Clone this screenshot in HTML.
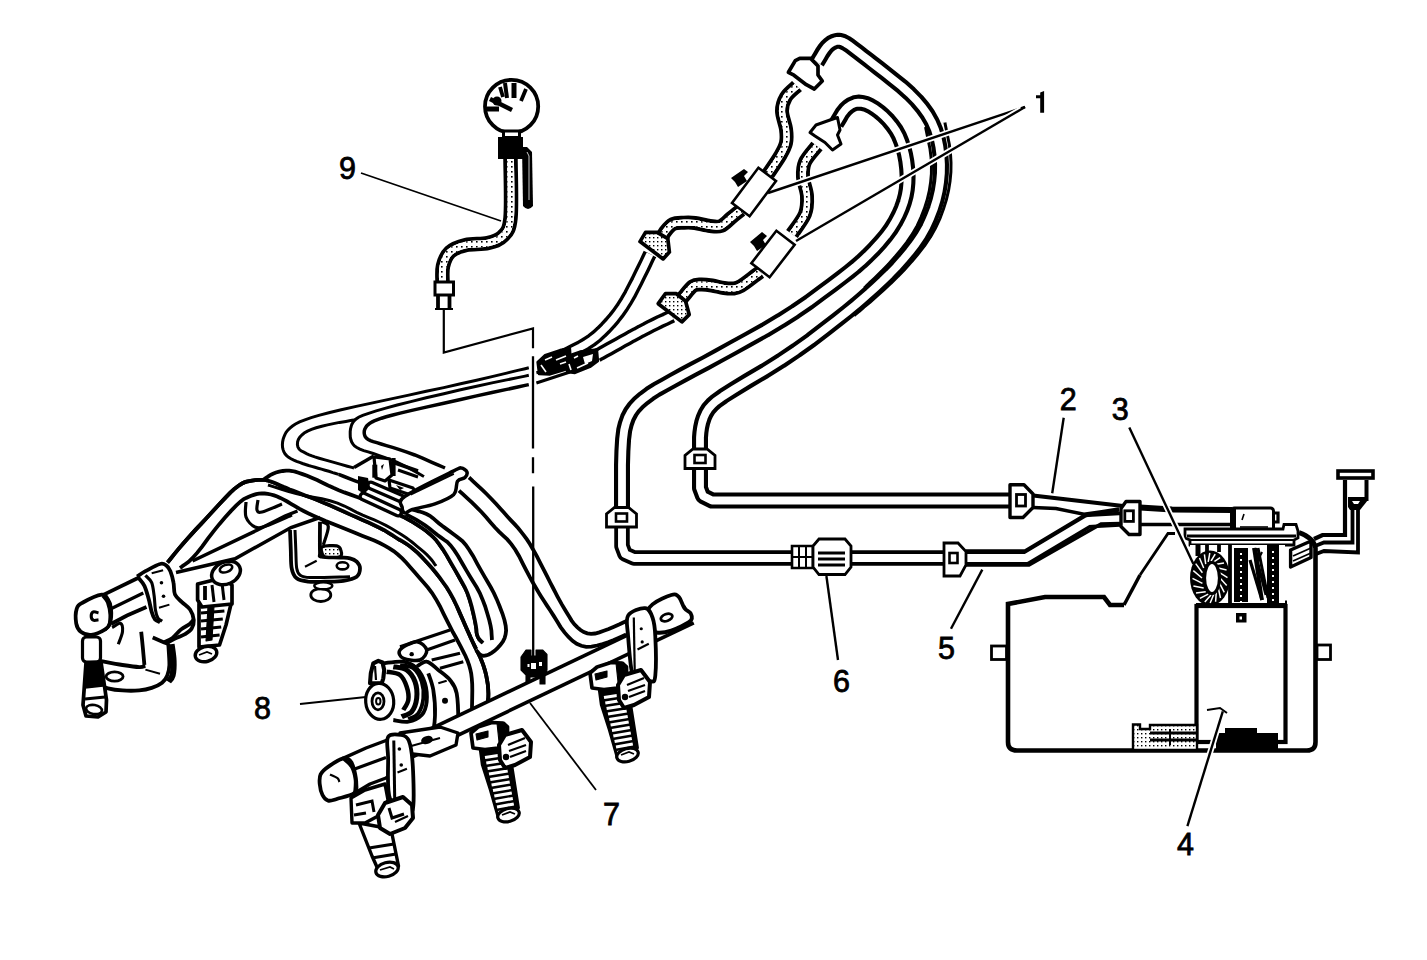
<!DOCTYPE html>
<html><head><meta charset="utf-8"><style>
html,body{margin:0;padding:0;background:#fff;}
svg{display:block;}
text{font-family:"Liberation Sans",sans-serif;fill:#000;}
</style></head><body>
<svg width="1427" height="960" viewBox="0 0 1427 960">
<defs>
<pattern id="dots" width="5" height="5" patternUnits="userSpaceOnUse"><rect width="5" height="5" fill="#fff"/><rect x="1" y="1" width="1.6" height="1.6" fill="#000"/></pattern>
<pattern id="dotsw" width="4" height="4" patternUnits="userSpaceOnUse"><rect width="4" height="4" fill="#fff"/><rect x="1" y="1" width="1.4" height="1.4" fill="#000"/></pattern>
</defs>
<rect width="1427" height="960" fill="#fff"/>
<circle cx="511.6" cy="106.4" r="26.6" fill="#fff" stroke="#000" stroke-width="3.8"/>
<path d="M487,109 L499,109" fill="none" stroke="#000" stroke-width="5"/>
<path d="M490,99 L512,110" fill="none" stroke="#000" stroke-width="4.5"/>
<circle cx="497" cy="101" r="4.5"/>
<path d="M500,87 L503,97" fill="none" stroke="#000" stroke-width="3.8"/>
<path d="M505,83 L507,98" fill="none" stroke="#000" stroke-width="4"/>
<path d="M514,83 L514,98" fill="none" stroke="#000" stroke-width="5"/>
<path d="M526,89 L521,101" fill="none" stroke="#000" stroke-width="3.8"/>
<rect x="503.5" y="131" width="16" height="6.5" fill="#fff" stroke="#000" stroke-width="3"/>
<rect x="498" y="137" width="25" height="22" fill="#000"/>
<path d="M503,141 L518,156" fill="none" stroke="#000" stroke-width="1" stroke="#fff"/>
<path d="M522,147 L527,147 L532,152 L533,206 Q528,212 523,206 Z" fill="#000"/>
<path d="M527,152 L529,156 L529,200" fill="none" stroke="#fff" stroke-width="0.8"/>
<path d="M510.5,159 C510.5,168.8 511.8,205.2 510.5,218 C509.2,230.8 506.8,231.8 503,236 C499.2,240.2 494.2,241.5 488,243 C481.8,244.5 472.3,243.5 466,245 C459.7,246.5 453.8,248.5 450,252 C446.2,255.5 444.2,261 443,266 C441.8,271 442.6,279.3 442.5,282" fill="none" stroke="#000" stroke-width="14.5" stroke-linecap="butt" stroke-linejoin="round"/><path d="M510.5,159 C510.5,168.8 511.8,205.2 510.5,218 C509.2,230.8 506.8,231.8 503,236 C499.2,240.2 494.2,241.5 488,243 C481.8,244.5 472.3,243.5 466,245 C459.7,246.5 453.8,248.5 450,252 C446.2,255.5 444.2,261 443,266 C441.8,271 442.6,279.3 442.5,282" fill="none" stroke="#fff" stroke-width="6.9" stroke-linecap="butt" stroke-linejoin="round"/><path d="M510.5,159 C510.5,168.8 511.8,205.2 510.5,218 C509.2,230.8 506.8,231.8 503,236 C499.2,240.2 494.2,241.5 488,243 C481.8,244.5 472.3,243.5 466,245 C459.7,246.5 453.8,248.5 450,252 C446.2,255.5 444.2,261 443,266 C441.8,271 442.6,279.3 442.5,282" fill="none" stroke="url(#dots)" stroke-width="6.9" stroke-linecap="butt" stroke-linejoin="round"/>
<rect x="435" y="282" width="18.5" height="13" fill="#fff" stroke="#000" stroke-width="3"/>
<path d="M438,295 L438,309" fill="none" stroke="#000" stroke-width="3.8"/><path d="M449.5,295 L449.5,309" fill="none" stroke="#000" stroke-width="3.8"/>
<path d="M435,309 L453,309" fill="none" stroke="#000" stroke-width="2"/>
<path d="M443.8,309 L443.8,352.5 L533,328.5 L533,348.3" fill="none" stroke="#000" stroke-width="2.2"/>
<path d="M361,173 L501,221" fill="none" stroke="#000" stroke-width="1.8"/>
<path d="M939.5,123.5 L939.9,125.7 L940.8,130.1 L942.1,136.6 L943.9,145.4 L945,154.1 L945.5,162.9 L945.4,171.6 L944.6,180.4 L943.2,189.2 L941.1,198.2 L938.2,207.4 L934.8,216.6 L930.6,225.6 L925.7,234.2 L920.1,242.5 L913.9,250.5 L907.4,258.2 L900.8,265.6 L894,272.6 L887,279.4 L880.1,285.8 L873.4,291.9 L866.8,297.8 L860.2,303.2 L855.4,307.4 L852.1,310.1 L850.5,311.5" fill="none" stroke="#000" stroke-width="14" stroke-linecap="butt" stroke-linejoin="round"/><path d="M939.5,123.5 L939.9,125.7 L940.8,130.1 L942.1,136.6 L943.9,145.4 L945,154.1 L945.5,162.9 L945.4,171.6 L944.6,180.4 L943.2,189.2 L941.1,198.2 L938.2,207.4 L934.8,216.6 L930.6,225.6 L925.7,234.2 L920.1,242.5 L913.9,250.5 L907.4,258.2 L900.8,265.6 L894,272.6 L887,279.4 L880.1,285.8 L873.4,291.9 L866.8,297.8 L860.2,303.2 L855.4,307.4 L852.1,310.1 L850.5,311.5" fill="none" stroke="#fff" stroke-width="8" stroke-linecap="butt" stroke-linejoin="round"/>
<path d="M931,126 L931.4,128.2 L932.3,132.6 L933.6,139.1 L935.4,147.9 L936.5,156.6 L937,165.4 L936.9,174.1 L936.1,182.9 L934.7,191.8 L932.6,200.8 L929.8,209.9 L926.2,219.1 L922.1,228.1 L917.2,236.7 L911.6,245 L905.4,253 L898.9,260.7 L892.3,268.1 L885.5,275.1 L878.5,281.9 L873.2,286.9 L869.8,290.3 L868,292" fill="none" stroke="#000" stroke-width="14" stroke-linecap="butt" stroke-linejoin="round"/><path d="M931,126 L931.4,128.2 L932.3,132.6 L933.6,139.1 L935.4,147.9 L936.5,156.6 L937,165.4 L936.9,174.1 L936.1,182.9 L934.7,191.8 L932.6,200.8 L929.8,209.9 L926.2,219.1 L922.1,228.1 L917.2,236.7 L911.6,245 L905.4,253 L898.9,260.7 L892.3,268.1 L885.5,275.1 L878.5,281.9 L873.2,286.9 L869.8,290.3 L868,292" fill="none" stroke="#fff" stroke-width="8" stroke-linecap="butt" stroke-linejoin="round"/>
<path d="M817,62 L817.6,61.1 L818.7,59.2 L820.4,56.4 L822.6,52.6 L824.8,49.4 L826.9,46.8 L829,44.8 L831,43.2 L833.1,42.1 L835.2,41.3 L837.4,40.8 L839.6,40.8 L842.4,41.5 L845.6,43.1 L849.4,45.5 L853.6,48.8 L858.1,52.2 L862.7,55.8 L867.5,59.4 L872.5,63.3 L878.4,67.9 L885.3,73.3 L893.1,79.5 L901.9,86.5 L909.7,93.5 L916.6,100.5 L922.5,107.5 L927.5,114.5 L931.7,121.9 L935.1,129.8 L937.6,138.1 L939.4,146.9 L940.5,155.6 L941,164.4 L940.9,173.1 L940.1,181.9 L938.7,190.8 L936.6,199.8 L933.8,208.9 L930.2,218.1 L926.1,227.1 L921.2,235.7 L915.6,244 L909.4,252 L902.9,259.7 L896.3,267.1 L889.5,274.1 L882.5,280.9 L875.6,287.3 L868.9,293.4 L862.2,299.2 L855.8,304.8 L847.4,311.6 L837.1,319.7 L825,329.1 L811,339.9 L796.2,350.4 L780.8,360.8 L764.5,371 L747.5,381 L733.8,389.4 L723.2,396.1 L716,401.2 L712,404.8 L708.6,408.6 L705.9,412.9 L703.8,417.5 L702.2,422.5 L701.1,427.5 L700.4,432.5 L700,437.5 L700,442.5 L700,446.2 L700,448.8 L700,450" fill="none" stroke="#000" stroke-width="16" stroke-linecap="butt" stroke-linejoin="round"/><path d="M817,62 L817.6,61.1 L818.7,59.2 L820.4,56.4 L822.6,52.6 L824.8,49.4 L826.9,46.8 L829,44.8 L831,43.2 L833.1,42.1 L835.2,41.3 L837.4,40.8 L839.6,40.8 L842.4,41.5 L845.6,43.1 L849.4,45.5 L853.6,48.8 L858.1,52.2 L862.7,55.8 L867.5,59.4 L872.5,63.3 L878.4,67.9 L885.3,73.3 L893.1,79.5 L901.9,86.5 L909.7,93.5 L916.6,100.5 L922.5,107.5 L927.5,114.5 L931.7,121.9 L935.1,129.8 L937.6,138.1 L939.4,146.9 L940.5,155.6 L941,164.4 L940.9,173.1 L940.1,181.9 L938.7,190.8 L936.6,199.8 L933.8,208.9 L930.2,218.1 L926.1,227.1 L921.2,235.7 L915.6,244 L909.4,252 L902.9,259.7 L896.3,267.1 L889.5,274.1 L882.5,280.9 L875.6,287.3 L868.9,293.4 L862.2,299.2 L855.8,304.8 L847.4,311.6 L837.1,319.7 L825,329.1 L811,339.9 L796.2,350.4 L780.8,360.8 L764.5,371 L747.5,381 L733.8,389.4 L723.2,396.1 L716,401.2 L712,404.8 L708.6,408.6 L705.9,412.9 L703.8,417.5 L702.2,422.5 L701.1,427.5 L700.4,432.5 L700,437.5 L700,442.5 L700,446.2 L700,448.8 L700,450" fill="none" stroke="#fff" stroke-width="7.8" stroke-linecap="butt" stroke-linejoin="round"/>
<path d="M836,124 L836.6,122.9 L837.9,120.8 L839.8,117.6 L842.2,113.4 L845,109.8 L848,106.9 L851.2,104.8 L854.8,103.2 L858.4,102.6 L862.3,102.9 L866.4,104 L870.6,106 L874.9,108.6 L879.3,111.9 L883.8,115.8 L888.2,120.2 L892.2,125.1 L895.8,130.2 L898.8,135.6 L901.2,141.4 L903.3,147.6 L905,154.2 L906.3,161.2 L907.2,168.8 L907.6,175.9 L907.4,182.8 L906.8,189.4 L905.7,195.6 L904,202 L901.7,208.5 L898.8,215.1 L895.2,221.9 L891,228.7 L886,235.6 L880.2,242.5 L873.8,249.5 L867.4,255.9 L861.1,261.8 L855,267.1 L849,271.9 L841.4,277.8 L832.1,284.8 L821.2,292.9 L808.8,302.1 L795.2,311.4 L780.6,320.7 L764.9,330.1 L748.1,339.4 L732.6,348 L718.4,355.8 L705.4,362.9 L693.6,369.1 L682.9,374.9 L673.1,380.2 L664.4,385.1 L656.6,389.4 L649.8,393.8 L643.8,398.3 L638.6,402.8 L634.4,407.2 L630.8,412.2 L627.9,417.8 L625.8,423.8 L624.2,430.2 L623.1,439.3 L622.4,450.9 L622,465.1 L622,481.9 L622,494.4 L622,502.8 L622,507" fill="none" stroke="#000" stroke-width="16" stroke-linecap="butt" stroke-linejoin="round"/><path d="M836,124 L836.6,122.9 L837.9,120.8 L839.8,117.6 L842.2,113.4 L845,109.8 L848,106.9 L851.2,104.8 L854.8,103.2 L858.4,102.6 L862.3,102.9 L866.4,104 L870.6,106 L874.9,108.6 L879.3,111.9 L883.8,115.8 L888.2,120.2 L892.2,125.1 L895.8,130.2 L898.8,135.6 L901.2,141.4 L903.3,147.6 L905,154.2 L906.3,161.2 L907.2,168.8 L907.6,175.9 L907.4,182.8 L906.8,189.4 L905.7,195.6 L904,202 L901.7,208.5 L898.8,215.1 L895.2,221.9 L891,228.7 L886,235.6 L880.2,242.5 L873.8,249.5 L867.4,255.9 L861.1,261.8 L855,267.1 L849,271.9 L841.4,277.8 L832.1,284.8 L821.2,292.9 L808.8,302.1 L795.2,311.4 L780.6,320.7 L764.9,330.1 L748.1,339.4 L732.6,348 L718.4,355.8 L705.4,362.9 L693.6,369.1 L682.9,374.9 L673.1,380.2 L664.4,385.1 L656.6,389.4 L649.8,393.8 L643.8,398.3 L638.6,402.8 L634.4,407.2 L630.8,412.2 L627.9,417.8 L625.8,423.8 L624.2,430.2 L623.1,439.3 L622.4,450.9 L622,465.1 L622,481.9 L622,494.4 L622,502.8 L622,507" fill="none" stroke="#fff" stroke-width="7.8" stroke-linecap="butt" stroke-linejoin="round"/>
<path d="M700,468 L700,488 L703,496 L712,500.5 L1011,500.5" fill="none" stroke="#000" stroke-width="16" stroke-linecap="butt" stroke-linejoin="round"/><path d="M700,468 L700,488 L703,496 L712,500.5 L1011,500.5" fill="none" stroke="#fff" stroke-width="7.8" stroke-linecap="butt" stroke-linejoin="round"/>
<path d="M622,528 L622,546 L625,554 L634,558 L793,558" fill="none" stroke="#000" stroke-width="15.5" stroke-linecap="butt" stroke-linejoin="round"/><path d="M622,528 L622,546 L625,554 L634,558 L793,558" fill="none" stroke="#fff" stroke-width="7.9" stroke-linecap="butt" stroke-linejoin="round"/>
<path d="M850,558 L945,558" fill="none" stroke="#000" stroke-width="15.5" stroke-linecap="butt" stroke-linejoin="round"/><path d="M850,558 L945,558" fill="none" stroke="#fff" stroke-width="7.9" stroke-linecap="butt" stroke-linejoin="round"/>
<path d="M965,558 L1026,558 L1088,521 L1124,519" fill="none" stroke="#000" stroke-width="15" stroke-linecap="butt" stroke-linejoin="round"/><path d="M965,558 L1026,558 L1088,521 L1124,519" fill="none" stroke="#fff" stroke-width="8" stroke-linecap="butt" stroke-linejoin="round"/>
<path d="M797,86 C795.2,87.8 788.5,92.8 786,97 C783.5,101.2 782,105.7 782,111 C782,116.3 785.3,123.7 786,129 C786.7,134.3 787,138.5 786,143 C785,147.5 783,150.8 780,156 C777,161.2 770,171 768,174" fill="none" stroke="#000" stroke-width="14" stroke-linecap="butt" stroke-linejoin="round"/><path d="M797,86 C795.2,87.8 788.5,92.8 786,97 C783.5,101.2 782,105.7 782,111 C782,116.3 785.3,123.7 786,129 C786.7,134.3 787,138.5 786,143 C785,147.5 783,150.8 780,156 C777,161.2 770,171 768,174" fill="none" stroke="#fff" stroke-width="6.2" stroke-linecap="butt" stroke-linejoin="round"/><path d="M797,86 C795.2,87.8 788.5,92.8 786,97 C783.5,101.2 782,105.7 782,111 C782,116.3 785.3,123.7 786,129 C786.7,134.3 787,138.5 786,143 C785,147.5 783,150.8 780,156 C777,161.2 770,171 768,174" fill="none" stroke="url(#dots)" stroke-width="6.2" stroke-linecap="butt" stroke-linejoin="round"/>
<path d="M741,210 C739.3,211.3 734.3,215.3 731,218 C727.7,220.7 724.5,224.7 721,226 C717.5,227.3 714.3,226.5 710,226 C705.7,225.5 699.3,223.6 695,223 C690.7,222.4 687.7,222.5 684,222.7 C680.3,222.9 676.2,222.4 673,224 C669.8,225.6 667,229.3 665,232 C663,234.7 661.7,238.7 661,240" fill="none" stroke="#000" stroke-width="14" stroke-linecap="butt" stroke-linejoin="round"/><path d="M741,210 C739.3,211.3 734.3,215.3 731,218 C727.7,220.7 724.5,224.7 721,226 C717.5,227.3 714.3,226.5 710,226 C705.7,225.5 699.3,223.6 695,223 C690.7,222.4 687.7,222.5 684,222.7 C680.3,222.9 676.2,222.4 673,224 C669.8,225.6 667,229.3 665,232 C663,234.7 661.7,238.7 661,240" fill="none" stroke="#fff" stroke-width="6.2" stroke-linecap="butt" stroke-linejoin="round"/><path d="M741,210 C739.3,211.3 734.3,215.3 731,218 C727.7,220.7 724.5,224.7 721,226 C717.5,227.3 714.3,226.5 710,226 C705.7,225.5 699.3,223.6 695,223 C690.7,222.4 687.7,222.5 684,222.7 C680.3,222.9 676.2,222.4 673,224 C669.8,225.6 667,229.3 665,232 C663,234.7 661.7,238.7 661,240" fill="none" stroke="url(#dots)" stroke-width="6.2" stroke-linecap="butt" stroke-linejoin="round"/>
<path d="M817,146 C815,148.7 807.3,156.8 805,162 C802.7,167.2 802.7,171.3 803,177 C803.3,182.7 806.7,189.8 807,196 C807.3,202.2 807.5,207.7 805,214 C802.5,220.3 794.2,230.7 792,234" fill="none" stroke="#000" stroke-width="14" stroke-linecap="butt" stroke-linejoin="round"/><path d="M817,146 C815,148.7 807.3,156.8 805,162 C802.7,167.2 802.7,171.3 803,177 C803.3,182.7 806.7,189.8 807,196 C807.3,202.2 807.5,207.7 805,214 C802.5,220.3 794.2,230.7 792,234" fill="none" stroke="#fff" stroke-width="6.2" stroke-linecap="butt" stroke-linejoin="round"/><path d="M817,146 C815,148.7 807.3,156.8 805,162 C802.7,167.2 802.7,171.3 803,177 C803.3,182.7 806.7,189.8 807,196 C807.3,202.2 807.5,207.7 805,214 C802.5,220.3 794.2,230.7 792,234" fill="none" stroke="url(#dots)" stroke-width="6.2" stroke-linecap="butt" stroke-linejoin="round"/>
<path d="M760,272 C759.3,272.5 759.2,272.7 756,275 C752.8,277.3 744.8,283.8 741,286 C737.2,288.2 736.3,288.2 733.5,288.5 C730.7,288.8 727.6,288.5 724,288 C720.4,287.5 715.8,286.1 712,285.5 C708.2,284.9 704.2,284.4 701,284.5 C697.8,284.6 695.8,284.1 693,286 C690.2,287.9 686.3,293.3 684,296 C681.7,298.7 679.8,301 679,302" fill="none" stroke="#000" stroke-width="14" stroke-linecap="butt" stroke-linejoin="round"/><path d="M760,272 C759.3,272.5 759.2,272.7 756,275 C752.8,277.3 744.8,283.8 741,286 C737.2,288.2 736.3,288.2 733.5,288.5 C730.7,288.8 727.6,288.5 724,288 C720.4,287.5 715.8,286.1 712,285.5 C708.2,284.9 704.2,284.4 701,284.5 C697.8,284.6 695.8,284.1 693,286 C690.2,287.9 686.3,293.3 684,296 C681.7,298.7 679.8,301 679,302" fill="none" stroke="#fff" stroke-width="6.2" stroke-linecap="butt" stroke-linejoin="round"/><path d="M760,272 C759.3,272.5 759.2,272.7 756,275 C752.8,277.3 744.8,283.8 741,286 C737.2,288.2 736.3,288.2 733.5,288.5 C730.7,288.8 727.6,288.5 724,288 C720.4,287.5 715.8,286.1 712,285.5 C708.2,284.9 704.2,284.4 701,284.5 C697.8,284.6 695.8,284.1 693,286 C690.2,287.9 686.3,293.3 684,296 C681.7,298.7 679.8,301 679,302" fill="none" stroke="url(#dots)" stroke-width="6.2" stroke-linecap="butt" stroke-linejoin="round"/>
<path d="M650,254 L649.3,255.4 L647.9,258.3 L645.9,262.6 L643.1,268.4 L640.1,274.4 L637,280.8 L633.5,287.5 L629.9,294.5 L626.1,301.1 L622.2,307.2 L618.2,312.9 L614.2,318.1 L609.9,323.1 L605.6,327.8 L601.1,332.2 L596.6,336.3 L591.6,340.2 L586.2,343.8 L580.4,347.2 L574.3,350.3 L569.6,352.7 L566.5,354.2 L565,355" fill="none" stroke="#000" stroke-width="14" stroke-linecap="butt" stroke-linejoin="round"/><path d="M650,254 L649.3,255.4 L647.9,258.3 L645.9,262.6 L643.1,268.4 L640.1,274.4 L637,280.8 L633.5,287.5 L629.9,294.5 L626.1,301.1 L622.2,307.2 L618.2,312.9 L614.2,318.1 L609.9,323.1 L605.6,327.8 L601.1,332.2 L596.6,336.3 L591.6,340.2 L586.2,343.8 L580.4,347.2 L574.3,350.3 L569.6,352.7 L566.5,354.2 L565,355" fill="none" stroke="#fff" stroke-width="7.2" stroke-linecap="butt" stroke-linejoin="round"/>
<path d="M672,316 L670.8,316.6 L668.4,317.7 L664.9,319.4 L660.1,321.6 L655.4,323.9 L650.6,326.3 L645.9,328.8 L641.1,331.2 L636.4,333.8 L631.8,336.2 L627.2,338.8 L622.8,341.2 L618.2,343.8 L613.6,346.4 L608.9,349 L604.1,351.6 L600.6,353.6 L598.2,354.9 L597,355.6" fill="none" stroke="#000" stroke-width="14" stroke-linecap="butt" stroke-linejoin="round"/><path d="M672,316 L670.8,316.6 L668.4,317.7 L664.9,319.4 L660.1,321.6 L655.4,323.9 L650.6,326.3 L645.9,328.8 L641.1,331.2 L636.4,333.8 L631.8,336.2 L627.2,338.8 L622.8,341.2 L618.2,343.8 L613.6,346.4 L608.9,349 L604.1,351.6 L600.6,353.6 L598.2,354.9 L597,355.6" fill="none" stroke="#fff" stroke-width="7.2" stroke-linecap="butt" stroke-linejoin="round"/>
<rect x="732" y="181" width="44" height="22" transform="rotate(-53.1 754 192)" fill="#fff" stroke="#000" stroke-width="2.6"/>
<rect x="752.5" y="242.5" width="41" height="23" transform="rotate(-52.4 773 254)" fill="#fff" stroke="#000" stroke-width="2.6"/>
<path d="M731,178 L744,169 L748,172 L744,176 L747,181 L738,187 L735,182 Z" fill="#000"/>
<path d="M750,242 L762,232 L767,236 L763,240 L766,245 L757,251 L754,246 Z" fill="#000"/>
<path d="M788.4,72.3 L795.3,60.6 L799.7,58.4 L810.6,58.4 L818,66 L818,75 L822.3,81 L814.3,89 L806.3,84.7 L793.9,75.2Z" fill="#fff" stroke="#000" stroke-width="3.7" stroke-linejoin="round"/>
<path d="M810,132.5 L816,125 L830,120 L837.5,117.5 L840,130 L837.5,135 L841,144 L832.5,150 L825,142.5 L815,136Z" fill="#fff" stroke="#000" stroke-width="3" stroke-linejoin="round"/>
<path d="M640,241.6 L645.5,232.4 L657.2,232.4 L667.8,238.7 L669.4,252.1 L663.1,258.9Z" fill="url(#dotsw)" stroke="#000" stroke-width="3.7" stroke-linejoin="round"/>
<path d="M658.2,303.7 L665.5,293.7 L676.4,293.7 L685.5,301 L689.2,314.6 L681.9,321.9Z" fill="url(#dotsw)" stroke="#000" stroke-width="3.7" stroke-linejoin="round"/>
<path d="M1010,484.8 L1024,484.8 L1033,494 L1033,507.5 L1023,517.5 L1010,517.5Z" fill="#fff" stroke="#000" stroke-width="3.4" stroke-linejoin="round"/>
<rect x="1016.5" y="494.5" width="9" height="11.5" fill="#fff" stroke="#000" stroke-width="2.8"/>
<path d="M1033,495.5 L1123,506" fill="none" stroke="#000" stroke-width="4.2"/>
<path d="M1033,507.5 L1056,508.6 L1084,514.2 L1100,512 L1119,509" fill="none" stroke="#000" stroke-width="3.5"/>
<path d="M966,551 L1025,551 L1084,515.6 L1119,510" fill="none" stroke="#000" stroke-width="3.5"/>
<path d="M961,565 L1029,565 L1101,524 L1120,523.4" fill="none" stroke="#000" stroke-width="3.5"/>
<path d="M1126,501.5 L1140,501.5 L1140,534.5 L1129,534.5 L1121,526.5 L1121,508.5Z" fill="#fff" stroke="#000" stroke-width="3.4" stroke-linejoin="round"/>
<rect x="1124.8" y="510.8" width="8.6" height="10.6" fill="#fff" stroke="#000" stroke-width="2.8"/>
<path d="M1140,507.5 L1172,509.5 L1232,510" fill="none" stroke="#000" stroke-width="5.8"/>
<path d="M1140,524.5 L1232,524.5" fill="none" stroke="#000" stroke-width="3.5"/>
<path d="M944,543 L958,543 L966,551.5 L966,565 L960,576 L944,576 Z" fill="#fff" stroke="#000" stroke-width="2.8"/>
<rect x="949.5" y="553" width="8" height="10" fill="#fff" stroke="#000" stroke-width="2.6"/>
<path d="M792,546 L813,546 L813,568 L792,568 Z" fill="#fff" stroke="#000" stroke-width="2.6"/>
<path d="M799,546 L799,568" fill="none" stroke="#000" stroke-width="2"/><path d="M806,546 L806,568" fill="none" stroke="#000" stroke-width="2"/><path d="M792,557 L813,557" fill="none" stroke="#000" stroke-width="2"/>
<path d="M819,539 L845,539 L851,546 L851,567 L845,574.5 L819,574.5 L813,567 L813,546 Z" fill="#fff" stroke="#000" stroke-width="2.8"/>
<path d="M818,553 L845,553" fill="none" stroke="#000" stroke-width="3"/><path d="M818,559 L845,559" fill="none" stroke="#000" stroke-width="3"/><path d="M818,565 L845,565" fill="none" stroke="#000" stroke-width="3"/>
<path d="M693,449.0 L707,449.0 L715,455.5 L715,468.5 L685,468.5 L685,455.5 Z" fill="#fff" stroke="#000" stroke-width="2.8"/>
<rect x="694.5" y="455.0" width="11" height="8" fill="#fff" stroke="#000" stroke-width="2.6"/>
<path d="M614.5,507.5 L628.5,507.5 L636.5,514 L636.5,527 L606.5,527 L606.5,514 Z" fill="#fff" stroke="#000" stroke-width="2.8"/>
<rect x="616.0" y="513.5" width="11" height="8" fill="#fff" stroke="#000" stroke-width="2.6"/>
<path d="M1140,575 L1168,533.5 L1175,533.5" fill="none" stroke="#000" stroke-width="2.8"/>
<path d="M1124,605 L1110,605 L1104,597 L1045,597 L1008,604 L1008,742 Q1008,750.5 1017,750.5 L1307,750.5 Q1315.5,750.5 1315.5,742 L1315.5,548 Q1314,538 1299,532.5" fill="none" stroke="#000" stroke-width="4.6"/>
<path d="M1124,605 L1140,575" fill="none" stroke="#000" stroke-width="3.5"/>
<rect x="991.5" y="646" width="15" height="13.5" fill="#fff" stroke="#000" stroke-width="2.8"/>
<rect x="1317" y="645" width="13.5" height="14.5" fill="#fff" stroke="#000" stroke-width="2.8"/>
<rect x="1196.5" y="606" width="89" height="136" fill="#fff" stroke="#000" stroke-width="4.2"/>
<rect x="1236" y="613" width="10.5" height="9.5" fill="#000"/>
<rect x="1239.5" y="616.5" width="2.5" height="3" fill="#fff"/>
<path d="M1196,603.5 L1287,603.5" fill="none" stroke="#000" stroke-width="6.2"/>
<rect x="1231.5" y="508" width="42" height="24" rx="3" fill="#fff" stroke="#000" stroke-width="3"/>
<rect x="1230" y="508" width="6" height="24" fill="#000"/>
<path d="M1274,513 L1278,513 L1278,522 L1274,522" fill="none" stroke="#000" stroke-width="3.2"/>
<path d="M1244,514 L1242,520" fill="none" stroke="#000" stroke-width="1.6"/><path d="M1240,527 L1268,527" fill="none" stroke="#000" stroke-width="1.6"/>
<path d="M1185,529 L1283,529 L1284,524.5 L1296,524.5 L1298,531 L1298,538 L1294,540 L1294,545 L1190,545 L1190,540 L1185,538 Z" fill="#fff" stroke="#000" stroke-width="2.8"/>
<path d="M1187,536 L1296,536" fill="none" stroke="#000" stroke-width="3.2"/><path d="M1190,540 L1294,540" fill="none" stroke="#000" stroke-width="2.2"/>
<rect x="1190" y="545" width="95" height="58" fill="#fff"/>
<path d="M1234,548 L1248,548 L1248,602 L1234,602 Z" fill="#000"/>
<path d="M1267,545 L1279,545 L1279,603 L1267,603 Z" fill="#000"/>
<rect x="1272" y="551" width="2" height="2" fill="#fff"/>
<rect x="1240" y="553" width="2" height="2" fill="#fff"/>
<rect x="1272" y="557" width="2" height="2" fill="#fff"/>
<rect x="1240" y="559" width="2" height="2" fill="#fff"/>
<rect x="1272" y="563" width="2" height="2" fill="#fff"/>
<rect x="1240" y="565" width="2" height="2" fill="#fff"/>
<rect x="1272" y="569" width="2" height="2" fill="#fff"/>
<rect x="1240" y="571" width="2" height="2" fill="#fff"/>
<rect x="1272" y="575" width="2" height="2" fill="#fff"/>
<rect x="1240" y="577" width="2" height="2" fill="#fff"/>
<rect x="1272" y="581" width="2" height="2" fill="#fff"/>
<rect x="1240" y="583" width="2" height="2" fill="#fff"/>
<rect x="1272" y="587" width="2" height="2" fill="#fff"/>
<rect x="1240" y="589" width="2" height="2" fill="#fff"/>
<rect x="1272" y="593" width="2" height="2" fill="#fff"/>
<rect x="1240" y="595" width="2" height="2" fill="#fff"/>
<rect x="1272" y="599" width="2" height="2" fill="#fff"/>
<rect x="1240" y="601" width="2" height="2" fill="#fff"/>
<path d="M1230,545 L1230,603" fill="none" stroke="#000" stroke-width="3.8"/><path d="M1250,560 L1262,600" fill="none" stroke="#000" stroke-width="3.2"/><path d="M1254,548 L1266,595" fill="none" stroke="#000" stroke-width="3"/><path d="M1256,548 L1258,560 L1262,552" fill="none" stroke="#000" stroke-width="2.2"/>
<path d="M1198,545 L1198,556" fill="none" stroke="#000" stroke-width="5"/><path d="M1207,545 L1207,552" fill="none" stroke="#000" stroke-width="3.8"/><path d="M1219,545 L1219,552" fill="none" stroke="#000" stroke-width="3.8"/>
<ellipse cx="1210" cy="578" rx="20" ry="27.5" fill="#000"/>
<path d="M1220,578 L1226.7,585.4" stroke="#fff" stroke-width="1.5" fill="none"/>
<path d="M1219.6,583.3 L1224.3,592.4" stroke="#fff" stroke-width="1.5" fill="none"/>
<path d="M1218.3,588 L1220.5,598" stroke="#fff" stroke-width="1.5" fill="none"/>
<path d="M1216.3,591.8 L1215.6,601.7" stroke="#fff" stroke-width="1.5" fill="none"/>
<path d="M1213.8,594.2 L1210.2,603" stroke="#fff" stroke-width="1.5" fill="none"/>
<path d="M1211,595 L1204.8,601.9" stroke="#fff" stroke-width="1.5" fill="none"/>
<path d="M1208.2,594.2 L1199.9,598.4" stroke="#fff" stroke-width="1.5" fill="none"/>
<path d="M1205.7,591.8 L1196,593" stroke="#fff" stroke-width="1.5" fill="none"/>
<path d="M1203.7,588 L1193.4,586.1" stroke="#fff" stroke-width="1.5" fill="none"/>
<path d="M1202.4,583.3 L1192.5,578.4" stroke="#fff" stroke-width="1.5" fill="none"/>
<path d="M1202,578 L1193.3,570.6" stroke="#fff" stroke-width="1.5" fill="none"/>
<path d="M1202.4,572.7 L1195.7,563.6" stroke="#fff" stroke-width="1.5" fill="none"/>
<path d="M1203.7,568 L1199.5,558" stroke="#fff" stroke-width="1.5" fill="none"/>
<path d="M1205.7,564.2 L1204.4,554.3" stroke="#fff" stroke-width="1.5" fill="none"/>
<path d="M1208.2,561.8 L1209.8,553" stroke="#fff" stroke-width="1.5" fill="none"/>
<path d="M1211,561 L1215.2,554.1" stroke="#fff" stroke-width="1.5" fill="none"/>
<path d="M1213.8,561.8 L1220.1,557.6" stroke="#fff" stroke-width="1.5" fill="none"/>
<path d="M1216.3,564.2 L1224,563" stroke="#fff" stroke-width="1.5" fill="none"/>
<path d="M1218.3,568 L1226.6,569.9" stroke="#fff" stroke-width="1.5" fill="none"/>
<path d="M1219.6,572.7 L1227.5,577.6" stroke="#fff" stroke-width="1.5" fill="none"/>
<ellipse cx="1212" cy="578" rx="7.5" ry="15.5" fill="#fff" stroke="#000" stroke-width="3.2"/>
<path d="M1254,548 L1262,600" fill="none" stroke="#000" stroke-width="3.8"/><path d="M1258,548 L1268,598" fill="none" stroke="#000" stroke-width="3"/>
<rect x="1338" y="471" width="35" height="7" fill="#fff" stroke="#000" stroke-width="3.6"/>
<path d="M1345,480 L1345,535 L1322.5,535 L1314,539" fill="none" stroke="#000" stroke-width="4.2"/>
<path d="M1366.5,480 L1366.5,501" fill="none" stroke="#000" stroke-width="4"/>
<path d="M1348,497 L1368,497 L1368,500 L1360,510 L1350,510 L1348,507 Z" fill="#000"/>
<path d="M1352,501 L1360,501 L1358,504 L1354,504 Z" fill="#fff"/>
<path d="M1352.5,509 L1352.5,542.5 L1324,542.5 L1315,546" fill="none" stroke="#000" stroke-width="3.8"/>
<path d="M1358,509 L1358,552.5 L1324,551 L1316,554" fill="none" stroke="#000" stroke-width="3.8"/>
<path d="M1290.6,550 L1311,541 L1311,557.5 L1290.6,567Z" fill="#fff" stroke="#000" stroke-width="3.4" stroke-linejoin="round"/>
<path d="M1293,556 L1311,548" fill="none" stroke="#000" stroke-width="1.8"/><path d="M1293,561 L1311,553" fill="none" stroke="#000" stroke-width="1.8"/>
<path d="M1133,724.5 L1140,724.5 L1140,729 L1150,729 L1150,725 L1197,725 L1197,750 L1133,750 Z" fill="url(#dotsw)" stroke="#000" stroke-width="2.4"/>
<path d="M1150,733 L1197,733" fill="none" stroke="#000" stroke-width="3"/><path d="M1150,740 L1197,740" fill="none" stroke="#000" stroke-width="3"/><path d="M1170,729 L1170,745" fill="none" stroke="#000" stroke-width="2"/>
<rect x="1216" y="733" width="62" height="17" fill="#000"/>
<rect x="1225" y="728" width="32" height="5" fill="#000"/>
<path d="M1207,710 L1220,708 L1227,713" fill="none" stroke="#000" stroke-width="2"/>
<path d="M1021.2,108.3 L772.7,191.4" stroke="#fff" stroke-width="6" fill="none"/><path d="M1025,107 L768,193" fill="none" stroke="#000" stroke-width="2.4"/>
<path d="M1021.5,109 L800.3,238.5" stroke="#fff" stroke-width="6" fill="none"/><path d="M1025,107 L796,241" fill="none" stroke="#000" stroke-width="2.4"/>
<path d="M1063.1,421.7 L1053,488.3" stroke="#fff" stroke-width="6" fill="none"/><path d="M1063.7,417.7 L1052.2,493.2" fill="none" stroke="#000" stroke-width="2.4"/>
<path d="M1131,431.2 L1191.2,559.2" stroke="#fff" stroke-width="6" fill="none"/><path d="M1129.3,427.6 L1193.3,563.8" fill="none" stroke="#000" stroke-width="2.4"/>
<path d="M1188.6,822.4 L1221.3,716.2" stroke="#fff" stroke-width="6" fill="none"/><path d="M1187.4,826.2 L1222.8,711.4" fill="none" stroke="#000" stroke-width="2.4"/>
<path d="M982.3,569.6 L951,628.7" fill="none" stroke="#000" stroke-width="2.4"/>
<path d="M826.4,576 L838,660" fill="none" stroke="#000" stroke-width="2.4"/>
<path d="M167.5,562.5 L168.6,561.2 L170.8,558.5 L174.1,554.4 L178.4,549.1 L182.8,543.9 L187.2,538.9 L191.6,534.1 L195.9,529.4 L200.9,524.1 L206.6,518 L212.8,511.2 L219.7,503.8 L225.5,497.6 L230.3,492.7 L234.1,489.1 L236.9,486.9 L239.5,485 L242,483.5 L244.4,482.4 L246.6,481.7 L249.2,481.1 L252,480.6 L255.2,480.1 L258.6,479.9 L261.7,479.8 L264.5,479.9 L267,480.3 L269.2,481 L271.6,481.8 L274.3,482.8 L277.2,484 L280.3,485.4 L283.4,486.8 L286.6,488.1 L289.7,489.4 L292.8,490.6 L296.6,492.1 L300.9,493.8 L305.9,495.7 L311.6,497.8 L316.7,499.8 L321.4,501.7 L325.6,503.4 L329.4,505.1 L333.8,507 L338.8,509.2 L344.4,511.7 L350.6,514.6 L356.7,517.3 L362.7,520 L368.6,522.6 L374.3,525.2 L379.5,527.7 L384.3,530.2 L388.6,532.8 L392.3,535.2 L395.9,537.5 L399.1,539.5 L402.1,541.2 L404.9,542.8 L407.8,544.7 L410.9,547 L414.2,549.8 L417.8,552.9 L421.3,556.4 L424.9,560.2 L428.6,564.2 L432.4,568.5 L436.1,573 L439.7,577.7 L443.2,582.5 L446.8,587.5 L450.2,593.1 L453.6,599.4 L456.9,606.2 L460.1,613.8 L463.1,620.6 L465.9,626.9 L468.4,632.5 L470.6,637.5 L472.8,642.2 L474.9,646.6 L476.9,650.6 L478.8,654.4 L480.6,658.2 L482.2,662.2 L483.7,666.4 L485,670.6 L486.1,675 L487,679.6 L487.8,684.4 L488.2,689.3 L488.4,693.7 L488.3,697.6 L487.9,700.9 L487.1,703.8 L486.6,705.9 L486.2,707.3 L486,708 L472,708 L472,706.2 L472.1,702.8 L472.2,697.5 L472.3,690.5 L472.2,684.2 L471.8,678.6 L471.2,673.6 L470.3,669.4 L469.1,665.1 L467.5,660.7 L465.6,656.2 L463.4,651.8 L461,647.1 L458.5,642.4 L455.9,637.5 L453.1,632.5 L450.2,626.9 L447,620.6 L443.6,613.8 L439.9,606.2 L436.1,599.4 L432.1,593.1 L427.9,587.5 L423.6,582.5 L419.2,577.5 L414.9,572.6 L410.7,567.7 L406.4,562.8 L402.2,558.4 L397.9,554.5 L393.6,551.1 L389.4,548.3 L384.7,545.6 L379.7,543 L374.3,540.5 L368.6,538.2 L362.7,535.9 L356.7,533.5 L350.6,531 L344.4,528.5 L338.8,526.3 L333.8,524.3 L329.4,522.5 L325.6,521 L321.6,519.3 L317.4,517.5 L312.9,515.5 L308.1,513.3 L303.6,511 L299.2,508.7 L295,506.2 L291,503.8 L287.2,501.5 L283.7,499.6 L280.3,497.9 L277.2,496.5 L274.1,495.4 L270.9,494.5 L267.8,493.9 L264.7,493.5 L261.7,493.5 L258.9,493.6 L256.2,494.1 L253.8,494.9 L251.2,495.8 L248.8,496.8 L246.2,497.9 L243.8,499.1 L240.4,501.7 L236.1,505.7 L231,510.9 L225,517.6 L219.1,524.4 L213.3,531.6 L207.7,538.9 L202.1,546.6 L197.1,552.9 L192.6,558 L188.6,561.8 L185.2,564.2 L182.6,566.1 L180.9,567.4 L180,568Z" fill="#fff" stroke="none"/>
<path d="M167.5,562.5 L168.6,561.2 L170.8,558.5 L174.1,554.4 L178.4,549.1 L182.8,543.9 L187.2,538.9 L191.6,534.1 L195.9,529.4 L200.9,524.1 L206.6,518 L212.8,511.2 L219.7,503.8 L225.5,497.6 L230.3,492.7 L234.1,489.1 L236.9,486.9 L239.5,485 L242,483.5 L244.4,482.4 L246.6,481.7 L249.2,481.1 L252,480.6 L255.2,480.1 L258.6,479.9 L261.7,479.8 L264.5,479.9 L267,480.3 L269.2,481 L271.6,481.8 L274.3,482.8 L277.2,484 L280.3,485.4 L283.4,486.8 L286.6,488.1 L289.7,489.4 L292.8,490.6 L296.6,492.1 L300.9,493.8 L305.9,495.7 L311.6,497.8 L316.7,499.8 L321.4,501.7 L325.6,503.4 L329.4,505.1 L333.8,507 L338.8,509.2 L344.4,511.7 L350.6,514.6 L356.7,517.3 L362.7,520 L368.6,522.6 L374.3,525.2 L379.5,527.7 L384.3,530.2 L388.6,532.8 L392.3,535.2 L395.9,537.5 L399.1,539.5 L402.1,541.2 L404.9,542.8 L407.8,544.7 L410.9,547 L414.2,549.8 L417.8,552.9 L421.3,556.4 L424.9,560.2 L428.6,564.2 L432.4,568.5 L436.1,573 L439.7,577.7 L443.2,582.5 L446.8,587.5 L450.2,593.1 L453.6,599.4 L456.9,606.2 L460.1,613.8 L463.1,620.6 L465.9,626.9 L468.4,632.5 L470.6,637.5 L472.8,642.2 L474.9,646.6 L476.9,650.6 L478.8,654.4 L480.6,658.2 L482.2,662.2 L483.7,666.4 L485,670.6 L486.1,675 L487,679.6 L487.8,684.4 L488.2,689.3 L488.4,693.7 L488.3,697.6 L487.9,700.9 L487.1,703.8 L486.6,705.9 L486.2,707.3 L486,708" fill="none" stroke="#000" stroke-width="3.8"/>
<path d="M180,568 L180.9,567.4 L182.6,566.1 L185.2,564.2 L188.6,561.8 L192.6,558 L197.1,552.9 L202.1,546.6 L207.7,538.9 L213.3,531.6 L219.1,524.4 L225,517.6 L231,510.9 L236.1,505.7 L240.4,501.7 L243.8,499.1 L246.2,497.9 L248.8,496.8 L251.2,495.8 L253.8,494.9 L256.2,494.1 L258.9,493.6 L261.7,493.5 L264.7,493.5 L267.8,493.9 L270.9,494.5 L274.1,495.4 L277.2,496.5 L280.3,497.9 L283.7,499.6 L287.2,501.5 L291,503.8 L295,506.2 L299.2,508.7 L303.6,511 L308.1,513.3 L312.9,515.5 L317.4,517.5 L321.6,519.3 L325.6,521 L329.4,522.5 L333.8,524.3 L338.8,526.3 L344.4,528.5 L350.6,531 L356.7,533.5 L362.7,535.9 L368.6,538.2 L374.3,540.5 L379.7,543 L384.7,545.6 L389.4,548.3 L393.6,551.1 L397.9,554.5 L402.2,558.4 L406.4,562.8 L410.7,567.7 L414.9,572.6 L419.2,577.5 L423.6,582.5 L427.9,587.5 L432.1,593.1 L436.1,599.4 L439.9,606.2 L443.6,613.8 L447,620.6 L450.2,626.9 L453.1,632.5 L455.9,637.5 L458.5,642.4 L461,647.1 L463.4,651.8 L465.6,656.2 L467.5,660.7 L469.1,665.1 L470.3,669.4 L471.2,673.6 L471.8,678.6 L472.2,684.2 L472.3,690.5 L472.2,697.5 L472.1,702.8 L472,706.2 L472,708" fill="none" stroke="#000" stroke-width="3.8"/>
<path d="M263.8,479.4 L264.4,479 L265.7,478.1 L267.6,476.9 L270.2,475.1 L273,473.7 L276,472.5 L279.2,471.6 L282.8,471 L286.1,470.6 L289.3,470.6 L292.3,471 L295.1,471.6 L298.5,472.7 L302.5,474.1 L307.1,475.8 L312.3,478 L317.1,480.1 L321.5,482.2 L325.6,484.2 L329.4,486.1 L333.8,488.1 L338.8,490.2 L344.4,492.4 L350.6,494.6 L357.1,497 L363.8,499.6 L370.8,502.3 L377.9,505.2 L384.7,508.1 L391.2,511 L397.3,513.9 L403,516.7 L408.4,519.6 L413.4,522.4 L418.1,525.3 L422.4,528.2 L426.3,531.1 L429.8,533.9 L433,536.8 L435.8,539.7 L439,543.8 L442.7,549.1 L446.8,555.6 L451.2,563.4 L455.3,570.4 L458.9,576.8 L462.1,582.5 L464.9,587.5 L467.4,593.1 L469.6,599.4 L471.6,606.2 L473.4,613.8 L474.8,620.1 L475.8,625.4 L476.4,629.5 L476.6,632.5 L477.2,635.1 L478.1,637.4 L479.2,639.2 L480.8,640.8 L481.9,641.9 L482.6,642.6 L483,643 L438,575 L437.1,573.9 L435.2,571.8 L432.4,568.5 L428.6,564.2 L424.9,560.2 L421.3,556.4 L417.8,552.9 L414.2,549.8 L410.9,547 L407.8,544.7 L404.9,542.8 L402.1,541.2 L399.1,539.5 L395.9,537.5 L392.3,535.2 L388.6,532.8 L384.3,530.2 L379.5,527.7 L374.3,525.2 L368.6,522.6 L362.7,520 L356.7,517.3 L350.6,514.6 L344.4,511.7 L338.8,509.2 L333.8,507 L329.4,505.1 L325.6,503.4 L321.4,501.7 L316.7,499.8 L311.6,497.8 L305.9,495.7 L300.9,493.8 L296.6,492.1 L292.8,490.6 L289.7,489.4 L286.6,488.1 L283.4,486.8 L280.3,485.4 L277.2,484 L274.3,482.8 L271.6,481.8 L269.2,481 L267,480.3 L265.4,479.9 L264.3,479.6 L263.8,479.4Z" fill="#fff" stroke="none"/>
<path d="M263.8,479.4 L264.4,479 L265.7,478.1 L267.6,476.9 L270.2,475.1 L273,473.7 L276,472.5 L279.2,471.6 L282.8,471 L286.1,470.6 L289.3,470.6 L292.3,471 L295.1,471.6 L298.5,472.7 L302.5,474.1 L307.1,475.8 L312.3,478 L317.1,480.1 L321.5,482.2 L325.6,484.2 L329.4,486.1 L333.8,488.1 L338.8,490.2 L344.4,492.4 L350.6,494.6 L357.1,497 L363.8,499.6 L370.8,502.3 L377.9,505.2 L384.7,508.1 L391.2,511 L397.3,513.9 L403,516.7 L408.4,519.6 L413.4,522.4 L418.1,525.3 L422.4,528.2 L426.3,531.1 L429.8,533.9 L433,536.8 L435.8,539.7 L439,543.8 L442.7,549.1 L446.8,555.6 L451.2,563.4 L455.3,570.4 L458.9,576.8 L462.1,582.5 L464.9,587.5 L467.4,593.1 L469.6,599.4 L471.6,606.2 L473.4,613.8 L474.8,620.1 L475.8,625.4 L476.4,629.5 L476.6,632.5 L477.2,635.1 L478.1,637.4 L479.2,639.2 L480.8,640.8 L481.9,641.9 L482.6,642.6 L483,643" fill="none" stroke="#000" stroke-width="3.8"/>
<path d="M268,485 L270,485.6 L274,486.9 L280,488.8 L288,491.2 L296.2,493.5 L304.6,495.5 L313.1,497.2 L321.9,498.8 L330,500.7 L337.5,503.1 L344.4,506 L350.6,509.2 L356.7,512.3 L362.7,515.1 L368.6,517.6 L374.3,519.9 L380,522.5 L385.8,525.4 L391.5,528.5 L397.2,532 L402.1,535 L406.2,537.7 L409.4,540.1 L411.9,542 L414.5,544.2 L417.4,546.6 L420.5,549.1 L423.8,551.9 L426.8,554.6 L429.3,557.2 L431.5,559.8 L433.3,562.2 L434.6,564.1 L435.6,565.4 L436,566" fill="none" stroke="#000" stroke-width="3"/>
<path d="M167.5,562.5 L168.6,561.2 L170.8,558.5 L174.1,554.4 L178.4,549.1 L182.8,543.9 L187.2,538.9 L191.6,534.1 L195.9,529.4 L200.9,524.1 L206.6,518 L212.8,511.2 L219.7,503.8 L225.5,497.6 L230.3,492.7 L234.1,489.1 L236.9,486.9 L239.5,485 L242,483.5 L244.4,482.4 L246.6,481.7 L249.2,481.1 L252,480.6 L255.2,480.1 L258.6,479.9 L261.7,479.8 L264.5,479.9 L267,480.3 L269.2,481 L271.6,481.8 L274.3,482.8 L277.2,484 L280.3,485.4 L283.4,486.8 L286.6,488.1 L289.7,489.4 L292.8,490.6 L296.6,492.1 L300.9,493.8 L305.9,495.7 L311.6,497.8 L316.7,499.8 L321.4,501.7 L325.6,503.4 L329.4,505.1 L333.8,507 L338.8,509.2 L344.4,511.7 L350.6,514.6 L356.7,517.3 L362.7,520 L368.6,522.6 L374.3,525.2 L379.5,527.7 L384.3,530.2 L388.6,532.8 L392.3,535.2 L395.9,537.5 L399.1,539.5 L402.1,541.2 L404.9,542.8 L407.8,544.7 L410.9,547 L414.2,549.8 L417.8,552.9 L421.3,556.4 L424.9,560.2 L428.6,564.2 L432.4,568.5 L436.1,573 L439.7,577.7 L443.2,582.5 L446.8,587.5 L450.2,593.1 L453.6,599.4 L456.9,606.2 L460.1,613.8 L463.1,620.6 L465.9,626.9 L468.4,632.5 L470.6,637.5 L472.8,642.2 L474.9,646.6 L476.9,650.6 L478.8,654.4 L480.6,658.2 L482.2,662.2 L483.7,666.4 L485,670.6 L486.1,675 L487,679.6 L487.8,684.4 L488.2,689.3 L488.4,693.7 L488.3,697.6 L487.9,700.9 L487.1,703.8 L486.6,705.9 L486.2,707.3 L486,708" fill="none" stroke="#000" stroke-width="3.8"/>
<path d="M412.7,509.6 L413.7,509.9 L415.7,510.5 L418.7,511.3 L422.8,512.5 L426.5,514 L429.9,515.8 L433,518.1 L435.8,520.6 L438.8,523.2 L442.1,525.8 L445.6,528.4 L449.4,531.1 L452.9,533.7 L456.3,536.2 L459.5,538.8 L462.5,541.2 L465.8,545 L469.3,550 L473.2,556.2 L477.3,563.8 L481.1,570.6 L484.7,576.9 L488,582.5 L490.9,587.5 L493.9,593.1 L496.8,599.4 L499.6,606.2 L502.5,613.8 L504.5,620.3 L505.7,625.9 L506.1,630.6 L505.6,634.4 L504.6,638 L502.9,641.5 L500.5,644.9 L497.5,648.1 L494.6,650.8 L491.7,652.9 L488.9,654.5 L486.1,655.5 L483.7,655.8 L481.6,655.4 L479.8,654.4 L478.2,652.6 L477.1,651.3 L476.4,650.4 L476,650 L483,643 L482.6,642.6 L481.9,641.9 L480.8,640.8 L479.2,639.2 L478.1,637.4 L477.2,635.1 L476.6,632.5 L476.4,629.5 L475.8,625.4 L474.8,620.1 L473.4,613.8 L471.6,606.2 L469.6,599.4 L467.4,593.1 L464.9,587.5 L462.1,582.5 L458.9,576.8 L455.3,570.4 L451.2,563.4 L446.8,555.6 L442.7,549.1 L439,543.8 L435.8,539.7 L433,536.8 L429.8,533.9 L426.3,531.1 L422.4,528.2 L418.1,525.3 L414.8,523.2 L412.7,521.7 L411.6,521Z" fill="#fff" stroke="none"/>
<path d="M405.8,514.2 L406.9,514.8 L409,515.9 L412.3,517.6 L416.5,519.9 L420.8,522.5 L425.1,525.4 L429.4,528.5 L433.6,531.9 L437.5,535 L441.1,537.6 L444.4,540 L447.3,542 L450.6,545.4 L454.2,550.1 L458.2,556.2 L462.5,563.8 L466.5,570.6 L470.3,576.9 L473.7,582.5 L476.8,587.5 L479.8,593.1 L482.5,599.4 L485.1,606.2 L487.4,613.8 L489.3,620.3 L490.6,625.9 L491.4,630.6 L491.6,634.4 L491.8,637.2 L491.9,639.1 L492,640" fill="none" stroke="#000" stroke-width="3.8"/>
<path d="M412.7,509.6 L413.7,509.9 L415.7,510.5 L418.7,511.3 L422.8,512.5 L426.5,514 L429.9,515.8 L433,518.1 L435.8,520.6 L438.8,523.2 L442.1,525.8 L445.6,528.4 L449.4,531.1 L452.9,533.7 L456.3,536.2 L459.5,538.8 L462.5,541.2 L465.8,545 L469.3,550 L473.2,556.2 L477.3,563.8 L481.1,570.6 L484.7,576.9 L488,582.5 L490.9,587.5 L493.9,593.1 L496.8,599.4 L499.6,606.2 L502.5,613.8 L504.5,620.3 L505.7,625.9 L506.1,630.6 L505.6,634.4 L504.6,638 L502.9,641.5 L500.5,644.9 L497.5,648.1 L494.6,650.8 L491.7,652.9 L488.9,654.5 L486.1,655.5 L483.7,655.8 L481.6,655.4 L479.8,654.4 L478.2,652.6 L477.1,651.3 L476.4,650.4 L476,650" fill="none" stroke="#000" stroke-width="3.8"/>
<path d="M388.7,509.6 L390.1,510.3 L393,511.7 L397.3,513.9 L403,516.7 L408.4,519.6 L413.4,522.4 L418.1,525.3 L422.4,528.2 L426.3,531.1 L429.8,533.9 L433,536.8 L435.8,539.7 L439,543.8 L442.7,549.1 L446.8,555.6 L451.2,563.4 L455.3,570.4 L458.9,576.8 L462.1,582.5 L464.9,587.5 L467.4,593.1 L469.6,599.4 L471.6,606.2 L473.4,613.8 L474.8,620.1 L475.8,625.4 L476.4,629.5 L476.6,632.5 L477.2,635.1 L478.1,637.4 L479.2,639.2 L480.8,640.8 L481.9,641.9 L482.6,642.6 L483,643" fill="none" stroke="#000" stroke-width="3.8"/>
<path d="M469,477.5 L470.3,478.7 L472.9,481.2 L476.9,484.8 L482.1,489.7 L487.1,494.5 L491.7,499.2 L496,503.8 L500,508.2 L503.9,512.6 L507.6,516.7 L511.2,520.6 L514.8,524.4 L518.1,528.1 L521.2,531.9 L524.1,535.6 L526.9,539.4 L529.9,544.1 L533.2,549.7 L536.8,556.2 L540.7,563.8 L544.2,570.6 L547.4,576.9 L550.2,582.5 L552.8,587.5 L555.2,592.2 L557.5,596.6 L559.7,600.6 L561.8,604.4 L564.1,608.2 L566.5,612.2 L569,616.3 L571.6,620.6 L574.4,624.3 L577.4,627.4 L580.5,630 L583.8,632.1 L587.3,633.4 L591.1,633.9 L595.1,633.5 L599.3,632.4 L603.8,630.8 L608.7,629 L614,626.7 L619.6,624.2 L623.8,622.2 L626.6,620.9 L628,620.3 L626.2,634.4 L625,635 L622.4,636.2 L618.5,637.9 L613.3,640.2 L608.1,642.3 L602.7,644 L597.1,645.5 L591.5,646.7 L586.2,646.8 L581.3,645.8 L576.7,643.8 L572.5,640.8 L568.5,637 L564.5,632.4 L560.6,627.1 L556.9,621 L553.4,615.4 L550.1,610.3 L547,605.6 L544.2,601.3 L541.4,596.9 L538.5,592.3 L535.7,587.5 L532.8,582.5 L529.7,576.9 L526.4,570.6 L522.9,563.8 L519.1,556.2 L515.3,549.7 L511.3,544.1 L507.3,539.4 L503.2,535.6 L499,531.6 L494.8,527.2 L490.6,522.5 L486.4,517.5 L481.9,512.5 L477.1,507.6 L472.1,502.7 L466.9,497.9 L462.9,494.2 L460.3,491.8 L459,490.6Z" fill="#fff" stroke="none"/>
<path d="M469,477.5 L470.3,478.7 L472.9,481.2 L476.9,484.8 L482.1,489.7 L487.1,494.5 L491.7,499.2 L496,503.8 L500,508.2 L503.9,512.6 L507.6,516.7 L511.2,520.6 L514.8,524.4 L518.1,528.1 L521.2,531.9 L524.1,535.6 L526.9,539.4 L529.9,544.1 L533.2,549.7 L536.8,556.2 L540.7,563.8 L544.2,570.6 L547.4,576.9 L550.2,582.5 L552.8,587.5 L555.2,592.2 L557.5,596.6 L559.7,600.6 L561.8,604.4 L564.1,608.2 L566.5,612.2 L569,616.3 L571.6,620.6 L574.4,624.3 L577.4,627.4 L580.5,630 L583.8,632.1 L587.3,633.4 L591.1,633.9 L595.1,633.5 L599.3,632.4 L603.8,630.8 L608.7,629 L614,626.7 L619.6,624.2 L623.8,622.2 L626.6,620.9 L628,620.3" fill="none" stroke="#000" stroke-width="3.8"/>
<path d="M459,490.6 L460.3,491.8 L462.9,494.2 L466.9,497.9 L472.1,502.7 L477.1,507.6 L481.9,512.5 L486.4,517.5 L490.6,522.5 L494.8,527.2 L499,531.6 L503.2,535.6 L507.3,539.4 L511.3,544.1 L515.3,549.7 L519.1,556.2 L522.9,563.8 L526.4,570.6 L529.7,576.9 L532.8,582.5 L535.7,587.5 L538.5,592.3 L541.4,596.9 L544.2,601.3 L547,605.6 L550.1,610.3 L553.4,615.4 L556.9,621 L560.6,627.1 L564.5,632.4 L568.5,637 L572.5,640.8 L576.7,643.8 L581.3,645.8 L586.2,646.8 L591.5,646.7 L597.1,645.5 L602.7,644 L608.1,642.3 L613.3,640.2 L618.5,637.9 L622.4,636.2 L625,635 L626.2,634.4" fill="none" stroke="#000" stroke-width="3.8"/>
<path d="M528.8,367.8 L525.1,368.7 L517.8,370.4 L506.7,373.1 L492,376.6 L476.6,380.2 L460.6,383.8 L443.8,387.6 L426.2,391.3 L408.8,395.1 L391.2,398.9 L373.8,402.6 L356.2,406.4 L341.2,409.8 L328.8,412.8 L318.8,415.4 L311.2,417.6 L304.9,419.8 L299.6,421.9 L295.5,424 L292.5,426 L289.9,428.1 L287.8,430.2 L286.1,432.4 L284.9,434.6 L283.9,437 L283.1,439.4 L282.6,441.9 L282.4,444.6 L282.5,447.1 L283,449.4 L283.8,451.7 L285,453.8 L286.6,455.6 L288.6,457.3 L291,458.8 L293.8,460.1 L296.6,461.3 L299.6,462.4 L302.5,463.5 L305.5,464.5 L308.6,465.5 L311.7,466.4 L314.9,467.3 L318.1,468.2 L321.5,469.1 L325.1,470.2 L328.9,471.3 L332.8,472.6 L335.8,473.5 L337.7,474.1 L338.7,474.4" fill="none" stroke="#000" stroke-width="3"/>
<path d="M355.4,419.8 L353.8,420.1 L350.6,420.6 L345.9,421.4 L339.5,422.4 L333.4,423.6 L327.5,424.9 L321.8,426.2 L316.2,427.8 L311.5,429.4 L307.5,431.1 L304.2,433 L301.8,435 L299.8,437.2 L298.4,439.5 L297.6,441.9 L297.4,444.6 L297.9,446.9 L299.1,449 L301,450.8 L303.8,452.2 L306.5,453.6 L309.2,454.8 L312,455.9 L314.8,456.9 L319.1,458.2 L324.9,459.9 L332.1,461.9 L340.9,464.4 L347.4,466.2 L351.8,467.4 L354,468" fill="none" stroke="#000" stroke-width="3"/>
<path d="M528.8,375.3 L525.1,376.1 L517.8,377.6 L506.7,379.9 L492,382.9 L476.6,386.2 L460.6,389.8 L443.8,393.7 L426.2,397.8 L410.8,401.6 L397.2,405 L385.8,408.1 L376.2,410.9 L368.6,413.3 L362.7,415.4 L358.6,417.2 L356.4,418.8 L354.5,420.4 L353,422.3 L351.8,424.4 L351.1,426.6 L350.5,429 L350.2,431.6 L350.2,434.3 L350.3,437.2 L350.9,439.8 L351.7,442.1 L353,444.1 L354.5,445.9 L356.8,447.5 L359.9,449.1 L363.7,450.6 L368.2,451.9 L373.2,453.5 L378.6,455.3 L384.4,457.4 L390.6,459.6 L396.8,462.2 L402.9,465 L409,468.1 L415,471.4 L419.5,474 L422.5,475.7 L424,476.5" fill="none" stroke="#000" stroke-width="3"/>
<path d="M528.8,384.6 L525.1,385.4 L517.8,387 L506.7,389.4 L492,392.5 L476.6,395.9 L460.6,399.5 L443.8,403.2 L426.2,407.1 L411.8,410.4 L400.2,413.1 L391.8,415.2 L386.2,416.8 L381.5,418.2 L377.5,419.6 L374.2,420.9 L371.8,422.1 L369.6,423.4 L367.9,424.8 L366.5,426.2 L365.5,427.8 L364.8,429.2 L364.3,430.8 L364.2,432.2 L364.3,433.8 L364.6,435.1 L365.1,436.4 L365.8,437.5 L366.7,438.5 L368.2,439.5 L370.4,440.6 L373.2,441.6 L376.8,442.7 L381.1,444 L386.4,445.6 L392.5,447.4 L399.5,449.6 L406.9,452.1 L414.8,455 L423.1,458.4 L431.9,462.3 L438.4,465.1 L442.8,467 L445,468" fill="none" stroke="#000" stroke-width="3.5"/>
<path d="M536.4,372.8 L570,365" fill="none" stroke="#000" stroke-width="3"/><path d="M536.4,383 L570,372" fill="none" stroke="#000" stroke-width="3"/>
<path d="M537.5,362 L545,355 L560,350 L570,348.5 L571,364 L565,370 L550,374.5 L539,374Z" fill="#000" stroke="#000" stroke-width="2.3" stroke-linejoin="round"/>
<path d="M567,356 L580,351.5 L597,349.5 L598,361 L590,367 L575,373 L567,372Z" fill="#000" stroke="#000" stroke-width="2.3" stroke-linejoin="round"/>
<path d="M583,357 L593,354 L592,361 L585,364 Z" fill="#fff"/>
<path d="M541,365 L546,372" stroke="#fff" stroke-width="1.6" fill="none"/>
<path d="M556,360 L566,356" stroke="#fff" stroke-width="1.6" fill="none"/>
<path d="M569,364 L571,370" stroke="#fff" stroke-width="1.6" fill="none"/>
<path d="M545,360 L552,357" stroke="#fff" stroke-width="1.6" fill="none"/>
<path d="M560,364 L566,362" stroke="#fff" stroke-width="1.6" fill="none"/>
<path d="M577,368 L588,363" stroke="#fff" stroke-width="1.6" fill="none"/>
<path d="M574,358 L578,356" stroke="#fff" stroke-width="1.6" fill="none"/>
<path d="M103.8,594.6 L139,577.5" fill="none" stroke="#000" stroke-width="3.8"/>
<path d="M111,608.8 L143.3,593" fill="none" stroke="#000" stroke-width="3.2"/>
<path d="M111,624 L127,615.5 L146.5,607" fill="none" stroke="#000" stroke-width="3.8"/>
<path d="M192.5,561 L257.5,530 L285,516 L297.5,511" fill="none" stroke="#000" stroke-width="3.5"/>
<path d="M176,572.5 L235,558.8 L291,527.5 L320,517.5" fill="none" stroke="#000" stroke-width="3.5"/>
<path d="M246,502 C246,504.5 244.5,512.8 246,517 C247.5,521.2 251.7,525.5 255,527 C258.3,528.5 259.8,528 266,526 C272.2,524 287.7,516.8 292,515" fill="none" stroke="#000" stroke-width="3.2"/>
<path d="M258,500 C257.8,501.7 256.3,508 257,510 C257.7,512 257.8,513 262,512 C266.2,511 278.7,505.3 282,504" fill="none" stroke="#000" stroke-width="3.2"/>
<path d="M76.7,608.8 C77.8,605.3 78.8,604.9 82.9,602.5 C87.1,600.1 97.5,595.1 101.7,594.6 C105.8,594.1 106.4,597 107.9,599.4 C109.5,601.7 110.7,604.8 111,608.8 C111.4,612.7 111,619.9 110,623.3 C109,626.8 107.9,627.7 104.8,629.6 C101.7,631.5 95.2,634.4 91.2,634.8 C87.3,635.1 83.3,633.6 80.8,631.7 C78.3,629.8 76.9,627.2 76.2,623.3 C75.6,619.5 75.6,612.2 76.7,608.8Z" fill="#fff" stroke="#000" stroke-width="3.8"/>
<path d="M102.7,595.8 C103.5,596.9 106.3,599.3 107.5,602.5 C108.7,605.7 109.8,611.2 110,615 C110.2,618.8 109.8,622.9 109,625.4 C108.1,627.9 105.5,629.2 104.8,630" fill="none" stroke="#000" stroke-width="3.1"/>
<path d="M98.5,612.9 C97.7,612.7 94.5,611.4 93.3,611.9 C92.1,612.4 91.2,614.7 91.2,616 C91.2,617.4 92.1,619.6 93.3,620.2 C94.5,620.8 97.7,619.9 98.5,619.8" fill="none" stroke="#000" stroke-width="3.1"/>
<path d="M137.1,576.5 C138.5,575.6 141.6,573.3 145.4,571.2 C149.2,569.2 156.5,564.9 160,564 C163.5,563 164.5,564.2 166.2,565.4 C168,566.6 169.2,568.4 170.4,571.2 C171.6,574.1 172.8,578.8 173.5,582.7 C174.3,586.6 173.6,591.4 175,594.6 C176.4,597.8 179.3,599.5 181.9,602.1 C184.4,604.6 188.2,606.8 190.2,609.8 C192.2,612.8 193.5,617.1 193.8,620.2 C194,623.3 193.1,626.2 191.7,628.5 C190.2,630.9 187.5,632.6 185,634.2 C182.5,635.7 179.4,636.6 176.7,637.9 C173.9,639.2 169.7,641.4 168.3,642.1" fill="none" stroke="#000" stroke-width="3.8"/>
<path d="M138.1,577.5 C139.2,578.9 142.6,582.4 144.4,585.8 C146.1,589.3 147.3,594 148.5,598.3 C149.8,602.7 150.6,608.4 151.7,611.9 C152.7,615.3 153.4,617.4 154.8,619.2 C156.2,620.9 159.1,621.8 160,622.3" fill="none" stroke="#000" stroke-width="3.8"/>
<path d="M145.4,575.4 C146.5,576.6 150.2,579.2 151.7,582.7 C153.1,586.2 153.5,591.7 154.2,596.2 C154.8,600.8 154.8,606.1 155.4,609.8 C156,613.4 156.8,616.2 157.9,618.1 C159,620 161.4,620.7 162.1,621.2" fill="none" stroke="#000" stroke-width="3.1"/>
<circle cx="161.45833333333334" cy="582.7083333333334" r="1.8"/>
<circle cx="163.54166666666669" cy="596.25" r="1.8"/>
<path d="M151.7,573.3 L163.1,570.2" fill="none" stroke="#000" stroke-width="2"/><path d="M159,607.7 L169.4,604.6" fill="none" stroke="#000" stroke-width="2"/>
<path d="M141.2,631.7 C141.5,634.4 142.4,642.8 142.9,648.3 C143.4,653.9 144.1,662.2 144.4,665" fill="none" stroke="#000" stroke-width="3.8"/>
<path d="M99.6,660.8 C103.4,661.5 115.9,664 122.5,665 C129.1,666 135.3,666.9 139.2,667.1 C143,667.3 144.4,666.2 145.4,666" fill="none" stroke="#000" stroke-width="3.8"/>
<path d="M95.4,665 C95.1,666.7 93.2,672.3 93.3,675.4 C93.5,678.5 94,681.6 96.5,683.8 C98.9,685.9 103.6,687.2 107.9,688.3 C112.3,689.4 117.3,690.1 122.5,690.4 C127.7,690.8 134.3,690.8 139.2,690.4 C144,690 147.8,689.2 151.7,687.9 C155.5,686.6 159.5,684.8 162.1,682.7 C164.7,680.6 166.1,678.4 167.3,675.4 C168.5,672.5 169.2,670.2 169.4,665 C169.5,659.8 168.5,647.6 168.3,644.2" fill="none" stroke="#000" stroke-width="3.8"/>
<ellipse cx="114.6" cy="676.5" rx="8.5" ry="4.6" fill="#fff" stroke="#000" stroke-width="2.8" transform="rotate(0 114.6 676.5)"/>
<path d="M145.4,669.6 L160,673.8" fill="none" stroke="#000" stroke-width="2"/>
<path d="M152.7,637.5 C154.6,638.3 161.4,641.4 164.2,642.5 C166.9,643.6 168.5,643.9 169.4,644.2" fill="none" stroke="#000" stroke-width="3.8"/>
<path d="M164.2,642.1 C165.6,641.4 169.7,640 172.5,637.9 C175.3,635.8 178.1,631.8 180.8,629.6 C183.6,627.3 187.1,625.9 189.2,624.4 C191.3,622.8 192.6,620.9 193.3,620.2" fill="none" stroke="#000" stroke-width="3.8"/>
<path d="M171.5,644.2 C171.8,646.9 173.4,655.6 173.5,660.8 C173.7,666 173.4,671.9 172.5,675.4 C171.6,678.9 169,680.6 168.3,681.7" fill="none" stroke="#000" stroke-width="6.2"/>
<path d="M112.1,627.5 C113.5,626.8 118.7,622.6 120.4,623.3 C122.2,624 122.8,628.2 122.5,631.7 C122.2,635.1 119,642.1 118.3,644.2" fill="none" stroke="#000" stroke-width="3.1"/>
<path d="M290,530 C290.1,533.3 290.6,543.6 290.8,550 C291.1,556.4 290.7,563.6 291.7,568.3 C292.6,573.1 293.9,576.1 296.7,578.3 C299.4,580.6 303.6,581.1 308.3,581.7 C313.1,582.2 319.2,581.8 325,581.7 C330.8,581.5 338.1,581.7 343.3,580.8 C348.6,580 353.9,578.8 356.7,576.7 C359.4,574.6 360,570.8 360,568.3 C360,565.8 358.3,563.3 356.7,561.7 C355,560 352.8,559 350,558.3 C347.2,557.6 344.7,557.8 340,557.5 C335.3,557.2 325,557.6 321.7,556.7 C318.3,555.7 320.3,557.5 320,551.7 C319.7,545.8 320,526.7 320,521.7" fill="none" stroke="#000" stroke-width="3.8"/>
<path d="M295,530 C295.1,533.3 295.6,543.6 295.8,550 C296.1,556.4 296,564.2 296.7,568.3 C297.4,572.5 297.8,573.5 300,575 C302.2,576.5 301.7,577.2 310,577.5 C318.3,577.8 343.3,576.8 350,576.7" fill="none" stroke="#000" stroke-width="3"/>
<ellipse cx="342.5" cy="565.8" rx="5.8" ry="3.6" fill="#fff" stroke="#000" stroke-width="2.6" transform="rotate(0 342.5 565.8)"/>
<path d="M305,566.7 L316.7,560.8" fill="none" stroke="#000" stroke-width="2.2"/>
<path d="M322.5,546.7 C325,545.7 333.6,545.3 336.7,545.8 C339.7,546.4 340.3,548.2 340.8,550 C341.4,551.8 342.6,555.6 340,556.7 C337.4,557.8 328.1,557.5 325,556.7 C321.9,555.8 322.1,553.3 321.7,551.7 C321.2,550 320,547.6 322.5,546.7Z" fill="url(#dotsw)" stroke="#000" stroke-width="3.2"/>
<path d="M321.7,521.7 C322.8,522.5 328.1,522.8 328.3,526.7 C328.6,530.6 324.2,541.9 323.3,545" fill="none" stroke="#000" stroke-width="3.2"/>
<ellipse cx="320.8" cy="595" rx="10" ry="6.5" fill="#fff" stroke="#000" stroke-width="2.8" transform="rotate(0 320.8 595)"/>
<ellipse cx="323.3" cy="585.8" rx="9" ry="3.5" fill="#fff" stroke="#000" stroke-width="2.4" transform="rotate(0 323.3 585.8)"/>
<path d="M354,467.6 L373.8,456" fill="none" stroke="#000" stroke-width="3.5"/>
<path d="M338.7,474.4 L344.1,476.5 L355.1,480.8 L362.9,483.7 L367.6,485.2 L370,486" fill="none" stroke="#000" stroke-width="3.5"/>
<path d="M371,485.5 L401,498.5" fill="none" stroke="#000" stroke-width="10" stroke-linecap="round" stroke-linejoin="round"/><path d="M371,485.5 L401,498.5" fill="none" stroke="#fff" stroke-width="3.2" stroke-linecap="round" stroke-linejoin="round"/>
<path d="M363.5,496.5 L398,512.5" fill="none" stroke="#000" stroke-width="10" stroke-linecap="round" stroke-linejoin="round"/><path d="M363.5,496.5 L398,512.5" fill="none" stroke="#fff" stroke-width="3.2" stroke-linecap="round" stroke-linejoin="round"/>
<path d="M374,457 L390,459 L392,475 L385,481 L376,478Z" fill="#fff" stroke="#000" stroke-width="3.2" stroke-linejoin="round"/>
<path d="M381,466 L384,464 L382,470 Z" fill="#000"/>
<rect x="392" y="458" width="3.6" height="18" fill="#000"/>
<rect x="372.3" y="464.7" width="5" height="13" fill="#000"/>
<path d="M389,480 L413,488 L416,493 L414,496 L390,488Z" fill="#fff" stroke="#000" stroke-width="3.2" stroke-linejoin="round"/>
<path d="M396,485 L404,488 L400,490 Z" fill="#000"/>
<path d="M358,476 L368,478 L370,488 L364,494 L358,490 Z" fill="#000"/>
<path d="M395,463 L418,471" fill="none" stroke="#000" stroke-width="3.5"/><path d="M398,470 L418,477" fill="none" stroke="#000" stroke-width="3"/>
<path d="M405,496.3 C413.6,490.2 444.4,475.6 453.8,470.9 C463.1,466.3 459.1,468 461.3,468.1 C463.4,468.3 466.3,470.3 466.9,471.9 C467.5,473.4 466.6,475.9 465,477.5 C463.4,479.1 459.4,478.4 457.5,481.3 C455.6,484.1 457.5,490.6 453.8,494.4 C450,498.1 441.9,501.3 435,503.8 C428.1,506.3 417.5,507.8 412.5,509.4 C407.5,510.9 406.7,513.4 405,513.1 C403.3,512.8 402.2,510.3 402.2,507.5 C402.2,504.7 396.4,502.3 405,496.3Z" fill="#fff" stroke="#000" stroke-width="3.5"/>
<path d="M410.6,494.4 L453.8,473.8" fill="none" stroke="#000" stroke-width="2.2"/>
<path d="M383.3,663.3 C386.7,663.1 397.8,660.8 403.3,661.7 C408.9,662.5 413.1,664.7 416.7,668.3 C420.3,671.9 423.3,677.8 425,683.3 C426.7,688.9 427.2,696.4 426.7,701.7 C426.1,706.9 424.7,711.7 421.7,715 C418.6,718.3 413.1,720.8 408.3,721.7 C403.6,722.5 395.8,720.3 393.3,720" fill="#fff" stroke="#000" stroke-width="3.8"/>
<path d="M393.3,666.7 C395.6,667.2 403.1,667.5 406.7,670 C410.3,672.5 413.3,676.9 415,681.7 C416.7,686.4 417.2,693.3 416.7,698.3 C416.1,703.3 414.2,708.6 411.7,711.7 C409.2,714.7 403.3,715.8 401.7,716.7" fill="none" stroke="#000" stroke-width="5"/>
<path d="M400,665 C402.2,665.6 409.7,665.6 413.3,668.3 C416.9,671.1 420,676.7 421.7,681.7 C423.3,686.7 423.9,693.1 423.3,698.3 C422.8,703.6 420.8,709.9 418.3,713.3 C415.8,716.8 410,718.2 408.3,719.2" fill="none" stroke="#000" stroke-width="3.8"/>
<path d="M386.7,671.7 C388.9,672.2 396.7,672.5 400,675 C403.3,677.5 405.3,682.5 406.7,686.7 C408.1,690.8 408.9,696.1 408.3,700 C407.8,703.9 404.2,708.3 403.3,710" fill="none" stroke="#000" stroke-width="4.5"/>
<path d="M370,683.3 L370.8,673.3 L373.3,663.3 L378.3,660.8 L382.5,662.5 L384.2,670 L383.3,678.3 L381.7,683.3Z" fill="#fff" stroke="#000" stroke-width="4.1" stroke-linejoin="round"/>
<path d="M375,666 L376,680" fill="none" stroke="#000" stroke-width="2.2"/>
<ellipse cx="379.7" cy="701.3" rx="14" ry="18" fill="#fff" stroke="#000" stroke-width="3.2" transform="rotate(-5 379.7 701.3)"/>
<ellipse cx="378" cy="701.3" rx="6" ry="8.5" fill="#fff" stroke="#000" stroke-width="2.8" transform="rotate(0 378 701.3)"/>
<ellipse cx="378.3" cy="701.3" rx="2.2" ry="3.2" fill="#fff" stroke="#000" stroke-width="2" transform="rotate(0 378.3 701.3)"/>
<path d="M416.7,666.7 C418.3,665.8 423.1,661.1 426.7,661.7 C430.3,662.2 434.4,666.9 438.3,670 C442.2,673.1 446.9,676.1 450,680 C453.1,683.9 455.3,686.1 456.7,693.3 C458.1,700.6 458.3,716.1 458.3,723.3 C458.3,730.6 458.1,733.3 456.7,736.7 C455.3,740 455,741.9 450,743.3 C445,744.7 432.2,745 426.7,745 C421.1,745 415.8,745.3 416.7,743.3 C417.5,741.4 428.6,738.1 431.7,733.3 C434.7,728.6 434.7,722.2 435,715 C435.3,707.8 434.4,696.9 433.3,690 C432.2,683.1 429.2,676.1 428.3,673.3" fill="#fff" stroke="#000" stroke-width="3.8"/>
<circle cx="445.0" cy="700.8333333333334" r="3"/>
<circle cx="450.0" cy="722.5" r="2.6"/>
<path d="M438.3,683.3 L446.7,680.8" fill="none" stroke="#000" stroke-width="2.2"/>
<ellipse cx="427.5" cy="738.3" rx="4.5" ry="3" fill="#000" stroke="#000" stroke-width="2" transform="rotate(0 427.5 738.3)"/>
<path d="M400,650 C402.2,647.2 412.2,641.7 416.7,641.7 C421.1,641.7 426.1,646.9 426.7,650 C427.2,653.1 423.9,658.6 420,660 C416.1,661.4 406.7,660 403.3,658.3 C400,656.7 397.8,652.8 400,650Z" fill="#fff" stroke="#000" stroke-width="3.5"/>
<circle cx="411.6666666666667" cy="654.1666666666666" r="2.2"/>
<path d="M395,755.6 L690,614.9" fill="none" stroke="#000" stroke-width="21" stroke-linecap="butt" stroke-linejoin="round"/><path d="M395,755.6 L690,614.9" fill="none" stroke="#fff" stroke-width="13.8" stroke-linecap="butt" stroke-linejoin="round"/>
<path d="M343,758.4 L366,748 L390,739 L398,745 L398,770 L386,778 L370,784 L355,793Z" fill="#fff" stroke="#000" stroke-width="3.4" stroke-linejoin="round"/>
<path d="M352,770 L386,757.5" fill="none" stroke="#000" stroke-width="3.2"/>
<path d="M400,733 L440,727 L458,733 L456,745 L430,756 L404,753 L398,744Z" fill="#fff" stroke="#000" stroke-width="3.4" stroke-linejoin="round"/>
<ellipse cx="427" cy="740" rx="5" ry="3" fill="#000" stroke="#000" stroke-width="2" transform="rotate(-15 427 740)"/>
<path d="M404,748 L440,738" fill="none" stroke="#000" stroke-width="2"/>
<path d="M320.6,774.4 C322,771.6 324.4,769.5 328.1,766.9 C331.9,764.2 339.4,759.4 343.1,758.4 C346.9,757.5 348.8,759.2 350.6,761.3 C352.5,763.3 353.4,766.9 354.4,770.6 C355.3,774.4 356.3,780 356.3,783.8 C356.3,787.5 357.5,790.6 354.4,793.1 C351.3,795.6 341.9,797.5 337.5,798.8 C333.1,800 330.6,801.3 328.1,800.6 C325.6,800 323.9,797.8 322.5,795 C321.1,792.2 320,787.2 319.7,783.8 C319.4,780.3 319.2,777.2 320.6,774.4Z" fill="#fff" stroke="#000" stroke-width="3.8"/>
<path d="M343.1,758.4 C344.5,759.8 349.5,763.3 351.6,766.9 C353.6,770.5 354.8,775.6 355.3,780 C355.8,784.4 354.8,790.9 354.8,793.1" fill="none" stroke="#000" stroke-width="3.2"/>
<path d="M330,774.4 C331.3,775 335.9,776.9 337.5,778.1 C339.1,779.4 339.1,781.3 339.4,781.9" fill="none" stroke="#000" stroke-width="2.2"/>
<path d="M388.1,736.9 C390.3,733.1 397.8,734.4 401.3,735 C404.7,735.6 406.9,736.3 408.8,740.6 C410.6,745 411.7,750.6 412.5,761.3 C413.3,771.9 414.1,796.3 413.4,804.4 C412.8,812.5 412.7,810.9 408.8,810 C404.9,809.1 393.4,807.5 390,798.8 C386.6,790 388.4,767.8 388.1,757.5 C387.8,747.2 385.9,740.6 388.1,736.9Z" fill="#fff" stroke="#000" stroke-width="3.8"/>
<path d="M393.8,740.6 L394.7,798.8" fill="none" stroke="#000" stroke-width="3"/>
<circle cx="399.38121132570785" cy="749.0643165197824" r="1.8"/>
<circle cx="401.2563285205325" cy="765.0028126757923" r="1.8"/>
<path d="M397.5,772.5 L406.9,768.8" fill="none" stroke="#000" stroke-width="2.2"/>
<path d="M652.5,604.4 C656.9,600.6 666.9,596.3 671.3,595 C675.6,593.8 676.6,594.7 678.8,596.9 C680.9,599.1 682.4,605.3 684.4,608.1 C686.4,610.9 690,611.6 690.9,613.8 C691.9,615.9 693.3,618.4 690,621.3 C686.7,624.1 676.9,628.8 671.3,630.6 C665.6,632.5 660,633.1 656.3,632.5 C652.5,631.9 650.6,629.4 648.8,626.9 C646.9,624.4 644.4,621.3 645,617.5 C645.6,613.8 648.1,608.1 652.5,604.4Z" fill="#fff" stroke="#000" stroke-width="3.8"/>
<ellipse cx="666.6" cy="617.5" rx="6" ry="3.4" fill="#fff" stroke="#000" stroke-width="2.8" transform="rotate(-20 666.6 617.5)"/>
<path d="M628.1,615.6 C630.9,610.9 640.9,607.8 645,608.1 C649.1,608.4 650.8,612.8 652.5,617.5 C654.2,622.2 654.9,626.6 655.3,636.3 C655.8,645.9 656.1,668.1 655.3,675.6 C654.5,683.1 653.6,681.6 650.6,681.3 C647.7,680.9 640.6,675.3 637.5,673.8 C634.4,672.2 633.4,678.1 631.9,671.9 C630.3,665.6 628.8,645.6 628.1,636.3 C627.5,626.9 625.3,620.3 628.1,615.6Z" fill="#fff" stroke="#000" stroke-width="3.8"/>
<path d="M633.8,617.5 L634.7,670" fill="none" stroke="#000" stroke-width="2.2"/>
<circle cx="641.2563285205325" cy="628.7530470654416" r="1.6"/>
<circle cx="642.1938871179449" cy="641.8788674292143" r="1.6"/>
<path d="M637.5,649.4 L648.8,643.8" fill="none" stroke="#000" stroke-width="2.2"/>
<path d="M400,646.7 L450,630" fill="none" stroke="#000" stroke-width="3.2"/><path d="M426.7,650 L455,640" fill="none" stroke="#000" stroke-width="3.2"/><path d="M431.7,660 L460,653.3" fill="none" stroke="#000" stroke-width="3.2"/><path d="M440,668.3 L463.3,661.7" fill="none" stroke="#000" stroke-width="3.2"/>
<path d="M300,704 L366,697" fill="none" stroke="#000" stroke-width="1.8"/>
<path d="M530,703 L596,790" fill="none" stroke="#000" stroke-width="1.8"/>
<path d="M480,750 L505,747 L512.5,768 L518.8,808 L498,818 L490,790 L482,765Z" fill="#000" stroke="#000" stroke-width="2.3" stroke-linejoin="round"/>
<path d="M485,757.5 L504.6,754.5" fill="none" stroke="#fff" stroke-width="3.2"/>
<path d="M486.3,763 L505.6,760" fill="none" stroke="#fff" stroke-width="3.2"/>
<path d="M487.6,768.5 L506.7,765.5" fill="none" stroke="#fff" stroke-width="3.2"/>
<path d="M489,774 L507.7,771" fill="none" stroke="#fff" stroke-width="3.2"/>
<path d="M490.3,779.5 L508.7,776.5" fill="none" stroke="#fff" stroke-width="3.2"/>
<path d="M491.6,785 L509.7,782" fill="none" stroke="#fff" stroke-width="3.2"/>
<path d="M493,790.5 L510.7,787.5" fill="none" stroke="#fff" stroke-width="3.2"/>
<path d="M494.3,796 L511.8,793" fill="none" stroke="#fff" stroke-width="3.2"/>
<path d="M495.6,801.5 L512.8,798.5" fill="none" stroke="#fff" stroke-width="3.2"/>
<path d="M497,807 L513.8,804" fill="none" stroke="#fff" stroke-width="3.2"/>
<path d="M498.3,812.5 L514.8,809.5" fill="none" stroke="#fff" stroke-width="3.2"/>
<path d="M471,733 L478,727 L492,722.5 L503,723 L507.5,727 L507.5,740 L498,748 L485,749.5 L473,748Z" fill="#fff" stroke="#000" stroke-width="3.7" stroke-linejoin="round"/>
<path d="M476,734 L488,731 L488,737 L477,740Z" fill="#000" stroke="#000" stroke-width="1.1" stroke-linejoin="round"/>
<path d="M497,723 L505,723 L507,738 L499,742Z" fill="#000" stroke="#000" stroke-width="1.1" stroke-linejoin="round"/>
<path d="M499,745 L505,735 L522,730 L531,742 L530,757 L515,765 L505,768 L500,760Z" fill="#fff" stroke="#000" stroke-width="4" stroke-linejoin="round"/>
<path d="M508,745 L525,738" fill="none" stroke="#000" stroke-width="2.2"/><path d="M509,751 L526,745" fill="none" stroke="#000" stroke-width="2.2"/><path d="M510,757 L526,751" fill="none" stroke="#000" stroke-width="2.2"/>
<circle cx="506" cy="757" r="3.2"/>
<ellipse cx="508.5" cy="815" rx="11" ry="6.5" fill="#fff" stroke="#000" stroke-width="3.2" transform="rotate(-15 508.5 815)"/>
<path d="M502,815 L510,812 L515,814" fill="none" stroke="#000" stroke-width="1.8"/>
<path d="M599,690 L624,687 L631.5,708 L637.8,748 L617,758 L609,730 L601,705Z" fill="#000" stroke="#000" stroke-width="2.3" stroke-linejoin="round"/>
<path d="M604,697.5 L623.6,694.5" fill="none" stroke="#fff" stroke-width="3.2"/>
<path d="M605.3,703 L624.6,700" fill="none" stroke="#fff" stroke-width="3.2"/>
<path d="M606.6,708.5 L625.7,705.5" fill="none" stroke="#fff" stroke-width="3.2"/>
<path d="M608,714 L626.7,711" fill="none" stroke="#fff" stroke-width="3.2"/>
<path d="M609.3,719.5 L627.7,716.5" fill="none" stroke="#fff" stroke-width="3.2"/>
<path d="M610.6,725 L628.7,722" fill="none" stroke="#fff" stroke-width="3.2"/>
<path d="M612,730.5 L629.7,727.5" fill="none" stroke="#fff" stroke-width="3.2"/>
<path d="M613.3,736 L630.8,733" fill="none" stroke="#fff" stroke-width="3.2"/>
<path d="M614.6,741.5 L631.8,738.5" fill="none" stroke="#fff" stroke-width="3.2"/>
<path d="M616,747 L632.8,744" fill="none" stroke="#fff" stroke-width="3.2"/>
<path d="M617.3,752.5 L633.8,749.5" fill="none" stroke="#fff" stroke-width="3.2"/>
<path d="M590,673 L597,667 L611,662.5 L622,663 L626.5,667 L626.5,680 L617,688 L604,689.5 L592,688Z" fill="#fff" stroke="#000" stroke-width="3.7" stroke-linejoin="round"/>
<path d="M595,674 L607,671 L607,677 L596,680Z" fill="#000" stroke="#000" stroke-width="1.1" stroke-linejoin="round"/>
<path d="M616,663 L624,663 L626,678 L618,682Z" fill="#000" stroke="#000" stroke-width="1.1" stroke-linejoin="round"/>
<path d="M618,685 L624,675 L641,670 L650,682 L649,697 L634,705 L624,708 L619,700Z" fill="#fff" stroke="#000" stroke-width="4" stroke-linejoin="round"/>
<path d="M627,685 L644,678" fill="none" stroke="#000" stroke-width="2.2"/><path d="M628,691 L645,685" fill="none" stroke="#000" stroke-width="2.2"/><path d="M629,697 L645,691" fill="none" stroke="#000" stroke-width="2.2"/>
<circle cx="625" cy="697" r="3.2"/>
<ellipse cx="627.5" cy="755" rx="11" ry="6.5" fill="#fff" stroke="#000" stroke-width="3.2" transform="rotate(-15 627.5 755)"/>
<path d="M621,755 L629,752 L634,754" fill="none" stroke="#000" stroke-width="1.8"/>
<path d="M359,823 L391,829 L398.5,866 L381,876 L372,856Z" fill="#fff" stroke="#000" stroke-width="3.4" stroke-linejoin="round"/>
<path d="M369,848 L394,844" fill="none" stroke="#000" stroke-width="3.2"/><path d="M372,858 L396,854" fill="none" stroke="#000" stroke-width="3.2"/>
<ellipse cx="387" cy="869.5" rx="11.5" ry="7" fill="#fff" stroke="#000" stroke-width="3.2" transform="rotate(-15 387 869.5)"/>
<path d="M380,870 L390,867 L394,869" fill="none" stroke="#000" stroke-width="1.8"/>
<path d="M351,798 L365,790 L385,784 L388,800 L380,815 L365,823 L352,823Z" fill="#fff" stroke="#000" stroke-width="3.4" stroke-linejoin="round"/>
<path d="M356,805 L372,801 L374,812" fill="none" stroke="#000" stroke-width="3"/><path d="M354,815 L366,813" fill="none" stroke="#000" stroke-width="3"/>
<path d="M378,815 L385,803 L403,797 L412,805 L413,818 L405,828 L390,834 L380,828Z" fill="#fff" stroke="#000" stroke-width="4" stroke-linejoin="round"/>
<path d="M389,808 L392,818 L404,814" fill="none" stroke="#000" stroke-width="3"/><path d="M395,822 L408,816" fill="none" stroke="#000" stroke-width="2.2"/>
<path d="M199,604 L231,604 L226,625 L219.5,645 L199,647Z" fill="#fff" stroke="#000" stroke-width="3.7" stroke-linejoin="round"/>
<path d="M201,613 L224.4,611" fill="none" stroke="#000" stroke-width="3.2"/>
<path d="M201,621 L222.8,619" fill="none" stroke="#000" stroke-width="3.2"/>
<path d="M201,629 L221.2,627" fill="none" stroke="#000" stroke-width="3.2"/>
<path d="M201,637 L219.6,635" fill="none" stroke="#000" stroke-width="3.2"/>
<path d="M208,606 L214,606 L212,640 L206,641Z" fill="#000" stroke="#000" stroke-width="1.1" stroke-linejoin="round"/>
<path d="M197.6,584 L222,578 L232,585 L232,604 L202,607 L197.6,600Z" fill="#fff" stroke="#000" stroke-width="3.7" stroke-linejoin="round"/>
<path d="M205,586 L205,600" fill="none" stroke="#000" stroke-width="3.8"/><path d="M212,585 L214,602" fill="none" stroke="#000" stroke-width="3"/><path d="M222,583 L224,600" fill="none" stroke="#000" stroke-width="3"/>
<ellipse cx="226" cy="573" rx="15" ry="11" fill="#fff" stroke="#000" stroke-width="3.5" transform="rotate(-25 226 573)"/>
<ellipse cx="226" cy="568.5" rx="6.5" ry="3.6" fill="#fff" stroke="#000" stroke-width="2.6" transform="rotate(-20 226 568.5)"/>
<ellipse cx="206" cy="654" rx="11" ry="7.5" fill="#fff" stroke="#000" stroke-width="3.4" transform="rotate(-15 206 654)"/>
<path d="M199,655 L207,652 L212,654" fill="none" stroke="#000" stroke-width="1.8"/>
<rect x="82.5" y="637" width="18" height="25" rx="4" fill="#fff" stroke="#000" stroke-width="3.2"/>
<path d="M86,663 L101,662 L106.5,700 L106,712 L98,717 L86,716 L83,705Z" fill="#fff" stroke="#000" stroke-width="3.7" stroke-linejoin="round"/>
<path d="M86,663 L101,662 L103,686 L85,688Z" fill="#000" stroke="#000" stroke-width="1.7" stroke-linejoin="round"/>
<path d="M85,699 L105,697" fill="none" stroke="#000" stroke-width="3.2"/>
<ellipse cx="94" cy="709.5" rx="8" ry="4.5" fill="#fff" stroke="#000" stroke-width="2.6" transform="rotate(10 94 709.5)"/>
<path d="M533,356.3 L533,448.4 M533,457.2 L533,473.2 M533.2,486.6 L533.2,658" stroke="#000" stroke-width="2.3" fill="none"/>
<path d="M521,657 L526,650 L531,650 L531,656 L536,656 L536,650 L542.6,650 L547,654.5 L547,670 L545,676 L545,684 L540,684 L540,677 L530,677 L530,682 L526,682 L526,675 L521,670Z" fill="#000" stroke="#000" stroke-width="1.1" stroke-linejoin="round"/>
<rect x="531" y="663" width="5" height="6" fill="#fff"/><rect x="527.5" y="664" width="2" height="3" fill="#fff"/><rect x="539" y="662" width="3" height="4" fill="#fff"/>
<text x="338.9" y="179" font-size="30.5" stroke="#000" stroke-width="0.8">9</text>
<text x="1059.8" y="409.9" font-size="30.5" stroke="#000" stroke-width="0.8">2</text>
<text x="1111.8" y="420" font-size="30.5" stroke="#000" stroke-width="0.8">3</text>
<text x="1177" y="854.8" font-size="30.5" stroke="#000" stroke-width="0.8">4</text>
<text x="938" y="659" font-size="30.5" stroke="#000" stroke-width="0.8">5</text>
<text x="833" y="691.9" font-size="30.5" stroke="#000" stroke-width="0.8">6</text>
<text x="602.9" y="824.8" font-size="30.5" stroke="#000" stroke-width="0.8">7</text>
<text x="253.9" y="718.9" font-size="30.5" stroke="#000" stroke-width="0.8">8</text>
<path d="M1040.2,92.6 L1044.1,91 L1044.1,112.8 L1040.2,112.8 Z M1036,95.3 L1041,95.3 L1041,98.2 L1036,98.2 Z" fill="#000"/>
</svg>
</body></html>
